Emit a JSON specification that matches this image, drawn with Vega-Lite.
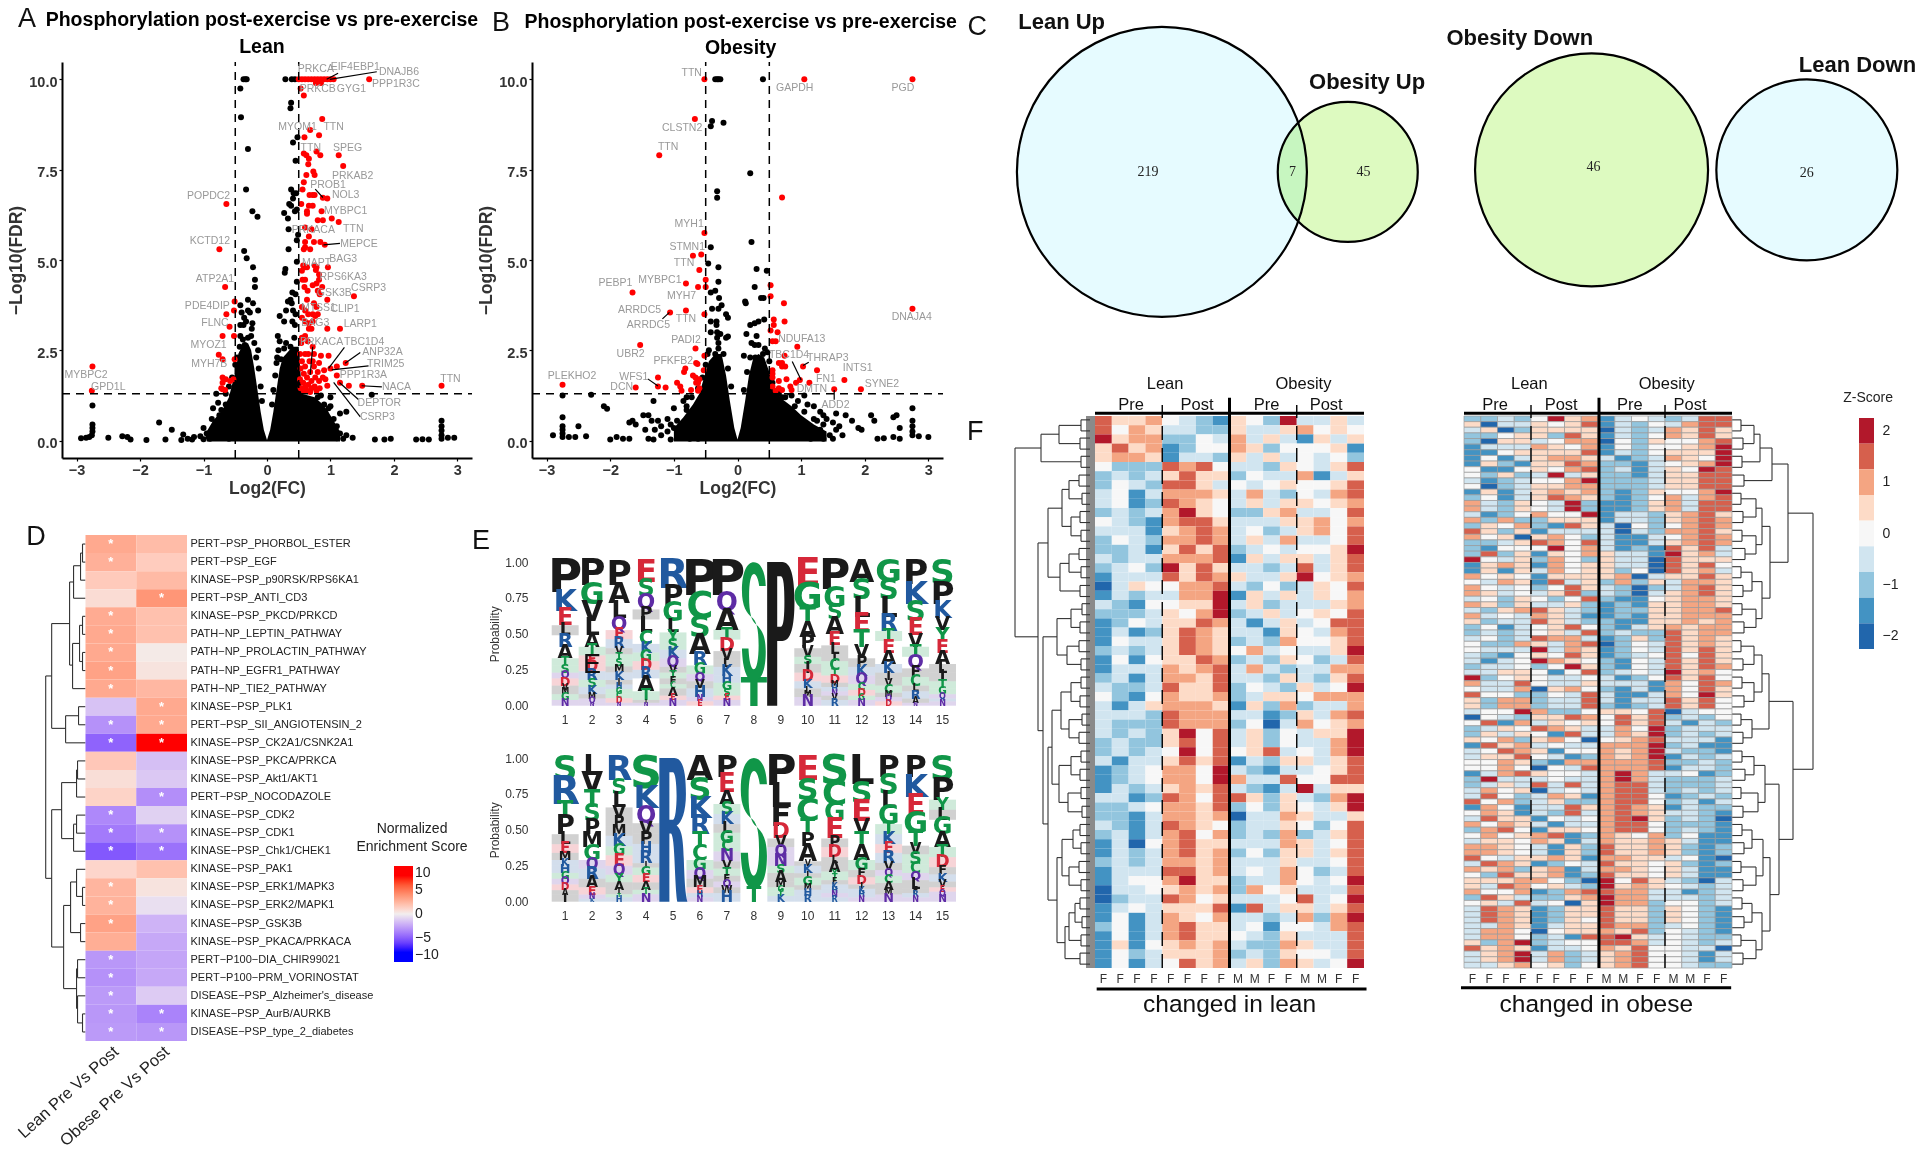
{"$schema":"https://vega.github.io/schema/vega-lite/v6.json","width":1920,"height":1158,"padding":0,"autosize":{"type":"none"},"background":"white","config":{"view":{"stroke":null},"font":"Liberation Sans","axis":{"grid":false}},
"datasets":{
"aarea":[{"x":-0.95,"y":0.25},{"x":-0.85,"y":0.55},{"x":-0.7,"y":0.85},{"x":-0.6,"y":1.2},{"x":-0.5,"y":1.9},{"x":-0.45,"y":2.4},{"x":-0.4,"y":2.6},{"x":-0.3,"y":2.7},{"x":-0.25,"y":2.5},{"x":-0.2,"y":2},{"x":-0.15,"y":1.4},{"x":-0.1,"y":0.8},{"x":-0.05,"y":0.3},{"x":0,"y":0.02},{"x":0.05,"y":0.3},{"x":0.1,"y":0.8},{"x":0.15,"y":1.4},{"x":0.2,"y":2},{"x":0.25,"y":2.3},{"x":0.3,"y":2.4},{"x":0.4,"y":2.6},{"x":0.5,"y":2.6},{"x":0.55,"y":1.3},{"x":0.65,"y":1.25},{"x":0.75,"y":1.2},{"x":0.85,"y":1.05},{"x":0.95,"y":0.85},{"x":1.05,"y":0.55},{"x":1.15,"y":0.25}],
"ablack":[{"x":-0.37,"y":10},{"x":-0.34,"y":10},{"x":-0.32,"y":10},{"x":-0.42,"y":9.75},{"x":0.29,"y":10},{"x":0.39,"y":10},{"x":0.44,"y":10},{"x":0.38,"y":9.35},{"x":0.37,"y":9.2},{"x":-0.41,"y":8.95},{"x":0.48,"y":8.4},{"x":0.41,"y":8.25},{"x":-0.3,"y":8.07},{"x":0.45,"y":7.75},{"x":-0.33,"y":6.95},{"x":0.38,"y":6.95},{"x":0.42,"y":6.85},{"x":0.46,"y":6.85},{"x":0.41,"y":6.7},{"x":0.35,"y":6.55},{"x":0.38,"y":6.5},{"x":0.27,"y":6.3},{"x":0.33,"y":6.15},{"x":0.44,"y":6.35},{"x":0.47,"y":6.4},{"x":-0.23,"y":6.35},{"x":-0.15,"y":6.2},{"x":0.34,"y":5.85},{"x":0.49,"y":5.7},{"x":0.47,"y":5.55},{"x":0.34,"y":5.3},{"x":-0.36,"y":5.25},{"x":-0.32,"y":5.05},{"x":0.47,"y":4.95},{"x":-0.22,"y":4.8},{"x":0.29,"y":4.75},{"x":0.28,"y":4.65},{"x":-0.19,"y":4.45},{"x":-0.19,"y":4.25},{"x":0.47,"y":4.4},{"x":0.4,"y":4.1},{"x":0.45,"y":4.05},{"x":0.37,"y":3.9},{"x":0.33,"y":3.85},{"x":0.39,"y":3.8},{"x":-0.3,"y":3.9},{"x":-0.22,"y":3.8},{"x":-0.42,"y":3.75},{"x":-0.4,"y":3.55},{"x":-0.3,"y":3.6},{"x":-0.27,"y":3.55},{"x":-0.14,"y":3.6},{"x":-0.36,"y":3.4},{"x":-0.33,"y":3.3},{"x":-0.23,"y":3.25},{"x":-0.42,"y":3.2},{"x":-0.37,"y":3.2},{"x":-0.24,"y":3.1},{"x":0.2,"y":3.45},{"x":0.3,"y":3.6},{"x":0.41,"y":3.6},{"x":0.45,"y":3.5},{"x":0.27,"y":3.3},{"x":0.4,"y":3.3},{"x":0.44,"y":3.2},{"x":0.17,"y":2.9},{"x":0.2,"y":2.75},{"x":0.3,"y":2.7},{"x":0.43,"y":2.85},{"x":0.18,"y":2.5},{"x":0.27,"y":2.55},{"x":0.37,"y":2.6},{"x":-0.35,"y":2.65},{"x":-0.3,"y":2.85},{"x":-0.43,"y":2.6},{"x":-0.2,"y":2.7},{"x":-0.32,"y":2.45},{"x":-0.14,"y":2.5},{"x":-0.4,"y":2.4},{"x":0.16,"y":2.3},{"x":0.22,"y":2.25},{"x":1.65,"y":1.27},{"x":-0.8,"y":1.3},{"x":-0.77,"y":1.05},{"x":-0.85,"y":0.9},{"x":-0.87,"y":0.6},{"x":-1.7,"y":0.5},{"x":-2.93,"y":0.07},{"x":-2.85,"y":0.08},{"x":-2.8,"y":0.1},{"x":-2.76,"y":0.15},{"x":-2.75,"y":0.25},{"x":-2.75,"y":0.35},{"x":-2.75,"y":0.45},{"x":-2.75,"y":0.97},{"x":-2.5,"y":0.08},{"x":-2.28,"y":0.12},{"x":-2.2,"y":0.1},{"x":-2.15,"y":0.03},{"x":-1.9,"y":0.02},{"x":-1.6,"y":0.03},{"x":-1.5,"y":0.3},{"x":-1.35,"y":0.02},{"x":-1.32,"y":0.17},{"x":-1.25,"y":0.05},{"x":-1.18,"y":0.03},{"x":-1,"y":0.04},{"x":-0.85,"y":0.3},{"x":-0.8,"y":0.18},{"x":-0.9,"y":0.05},{"x":1.1,"y":0.07},{"x":1.2,"y":0.05},{"x":1.35,"y":0.08},{"x":1.7,"y":0.03},{"x":1.85,"y":0.03},{"x":1.95,"y":0.05},{"x":2.35,"y":0.03},{"x":2.45,"y":0.04},{"x":2.55,"y":0.03},{"x":2.75,"y":0.05},{"x":2.75,"y":0.15},{"x":2.75,"y":0.28},{"x":2.75,"y":0.4},{"x":2.75,"y":0.55},{"x":2.85,"y":0.08},{"x":2.95,"y":0.08},{"x":1.05,"y":0.6},{"x":1,"y":0.95},{"x":1.15,"y":0.75},{"x":1.25,"y":0.8},{"x":1.05,"y":0.3},{"x":0.97,"y":0.9},{"x":0.9,"y":1},{"x":0.8,"y":1.2},{"x":0.9,"y":0.75},{"x":1,"y":1.2},{"x":-0.6,"y":0.05},{"x":-0.75,"y":0.7},{"x":-0.65,"y":1},{"x":-0.55,"y":1.25},{"x":-0.95,"y":0.2},{"x":-1,"y":0.35},{"x":-0.92,"y":0.1},{"x":-0.8,"y":0.5},{"x":-0.72,"y":0.85},{"x":-0.65,"y":1.3},{"x":-0.6,"y":1.5},{"x":-0.55,"y":1.75},{"x":-0.5,"y":2.1},{"x":-0.47,"y":2.3},{"x":-0.42,"y":2.9},{"x":-0.38,"y":2.8},{"x":-0.25,"y":2.9},{"x":-0.17,"y":2.3},{"x":-0.13,"y":2},{"x":-0.1,"y":1.5},{"x":-0.08,"y":1.1},{"x":0.08,"y":1},{"x":0.1,"y":1.4},{"x":0.13,"y":1.8},{"x":0.15,"y":2.15},{"x":1.1,"y":0.4},{"x":1.15,"y":0.2},{"x":-1.05,"y":0.12},{"x":-1.15,"y":0.1},{"x":1.25,"y":0.15},{"x":0.85,"y":1.25}],
"ared":[{"x":0.5,"y":10},{"x":0.55,"y":10},{"x":0.6,"y":10},{"x":0.65,"y":10},{"x":0.7,"y":10},{"x":0.75,"y":10},{"x":0.8,"y":10},{"x":0.85,"y":10},{"x":0.9,"y":10},{"x":0.95,"y":10},{"x":1,"y":10},{"x":1.05,"y":10},{"x":0.77,"y":9.9},{"x":0.85,"y":9.9},{"x":1.61,"y":10},{"x":0.53,"y":9.75},{"x":0.58,"y":9.55},{"x":0.87,"y":8.9},{"x":0.68,"y":8.6},{"x":0.82,"y":8.45},{"x":0.59,"y":8.4},{"x":0.58,"y":7.95},{"x":0.62,"y":7.9},{"x":0.66,"y":7.8},{"x":0.78,"y":8},{"x":0.84,"y":7.9},{"x":1.13,"y":7.9},{"x":1.2,"y":7.6},{"x":0.65,"y":7.65},{"x":0.73,"y":7.45},{"x":0.75,"y":7.35},{"x":0.62,"y":7.35},{"x":0.58,"y":7.15},{"x":0.56,"y":6.95},{"x":0.67,"y":6.8},{"x":0.72,"y":6.8},{"x":0.75,"y":6.8},{"x":0.88,"y":6.72},{"x":0.95,"y":6.7},{"x":0.54,"y":6.55},{"x":0.66,"y":6.5},{"x":0.72,"y":6.5},{"x":0.63,"y":6.35},{"x":0.63,"y":6.28},{"x":0.86,"y":6.35},{"x":0.8,"y":6.1},{"x":0.88,"y":6.1},{"x":1.02,"y":6.15},{"x":1.13,"y":6.05},{"x":0.6,"y":5.9},{"x":0.7,"y":5.85},{"x":0.66,"y":5.65},{"x":0.6,"y":5.5},{"x":0.74,"y":5.5},{"x":0.84,"y":5.5},{"x":0.91,"y":5.42},{"x":0.6,"y":5.35},{"x":0.58,"y":5.3},{"x":0.68,"y":5.3},{"x":-0.64,"y":6.55},{"x":-0.75,"y":5.3},{"x":-0.66,"y":4.25},{"x":-0.51,"y":3.85},{"x":-0.52,"y":3.6},{"x":-0.64,"y":3.5},{"x":-0.59,"y":3.15},{"x":-0.7,"y":2.9},{"x":-0.52,"y":2.9},{"x":-0.76,"y":2.38},{"x":-0.7,"y":2.25},{"x":-0.51,"y":2.25},{"x":-0.7,"y":1.75},{"x":-0.65,"y":1.7},{"x":-0.58,"y":1.65},{"x":-0.53,"y":1.7},{"x":-0.7,"y":1.6},{"x":-0.72,"y":1.45},{"x":-0.66,"y":1.4},{"x":-0.7,"y":1.42},{"x":-2.75,"y":2.05},{"x":-2.76,"y":1.38},{"x":2.75,"y":1.52},{"x":1.5,"y":1.52},{"x":1.29,"y":1.52},{"x":1.15,"y":1.6},{"x":1.1,"y":1.8},{"x":0.95,"y":1.52},{"x":0.57,"y":4.85},{"x":0.6,"y":4.8},{"x":0.55,"y":4.7},{"x":0.63,"y":4.8},{"x":0.75,"y":4.85},{"x":0.78,"y":4.8},{"x":0.77,"y":4.72},{"x":0.96,"y":4.8},{"x":0.82,"y":4.6},{"x":0.82,"y":4.45},{"x":0.6,"y":4.45},{"x":0.56,"y":4.45},{"x":0.78,"y":4.35},{"x":0.72,"y":4.3},{"x":0.87,"y":4.25},{"x":0.59,"y":4.25},{"x":0.64,"y":4.15},{"x":0.8,"y":4.15},{"x":0.83,"y":4.05},{"x":1.37,"y":4},{"x":0.95,"y":3.9},{"x":0.63,"y":3.9},{"x":0.74,"y":3.8},{"x":0.78,"y":3.7},{"x":0.55,"y":3.7},{"x":0.6,"y":3.6},{"x":0.65,"y":3.5},{"x":0.72,"y":3.5},{"x":0.8,"y":3.5},{"x":0.76,"y":3.45},{"x":0.55,"y":3.4},{"x":0.6,"y":3.3},{"x":0.66,"y":3.25},{"x":0.72,"y":3.3},{"x":0.66,"y":3.1},{"x":0.7,"y":3.1},{"x":0.95,"y":3.1},{"x":1.15,"y":3.1},{"x":0.6,"y":2.9},{"x":0.55,"y":2.85},{"x":0.64,"y":2.75},{"x":0.54,"y":2.7},{"x":0.72,"y":2.6},{"x":0.74,"y":2.4},{"x":0.85,"y":2.35},{"x":0.97,"y":2.35},{"x":0.6,"y":2.4},{"x":0.67,"y":2.2},{"x":1,"y":2},{"x":1.1,"y":2.05},{"x":1.24,"y":2.15},{"x":0.9,"y":1.95},{"x":0.8,"y":1.9},{"x":0.6,"y":2.05},{"x":0.52,"y":2.4},{"x":0.55,"y":2.2},{"x":0.53,"y":2},{"x":0.58,"y":1.85},{"x":0.52,"y":1.7},{"x":0.57,"y":1.6},{"x":0.53,"y":1.45},{"x":0.58,"y":1.38},{"x":0.63,"y":1.75},{"x":0.65,"y":1.55},{"x":0.63,"y":1.38},{"x":0.68,"y":1.9},{"x":0.7,"y":1.65},{"x":0.7,"y":1.45},{"x":0.74,"y":2.05},{"x":0.76,"y":1.75},{"x":0.75,"y":1.5},{"x":0.78,"y":1.38},{"x":0.82,"y":1.65},{"x":0.83,"y":1.45},{"x":0.88,"y":1.75},{"x":0.92,"y":1.7},{"x":0.65,"y":2.4},{"x":0.72,"y":2.2},{"x":0.82,"y":2.15},{"x":0.6,"y":1.48},{"x":0.68,"y":1.35}],
"alab":[{"x":0.77,"y":10.28,"t":"PRKCA"},{"x":1.39,"y":10.35,"t":"EIF4EBP1"},{"x":2.08,"y":10.21,"t":"DNAJB6"},{"x":2.03,"y":9.88,"t":"PPP1R3C"},{"x":0.8,"y":9.73,"t":"PRKCB"},{"x":1.33,"y":9.73,"t":"GYG1"},{"x":0.48,"y":8.69,"t":"MYOM1"},{"x":1.05,"y":8.69,"t":"TTN"},{"x":0.69,"y":8.11,"t":"TTN"},{"x":1.27,"y":8.1,"t":"SPEG"},{"x":1.35,"y":7.32,"t":"PRKAB2"},{"x":0.96,"y":7.08,"t":"PROB1"},{"x":1.24,"y":6.79,"t":"NOL3"},{"x":-0.92,"y":6.78,"t":"POPDC2"},{"x":1.24,"y":6.37,"t":"MYBPC1"},{"x":0.73,"y":5.82,"t":"PRKACA"},{"x":1.36,"y":5.87,"t":"TTN"},{"x":-0.9,"y":5.53,"t":"KCTD12"},{"x":1.45,"y":5.45,"t":"MEPCE"},{"x":0.78,"y":4.93,"t":"MAPT"},{"x":1.2,"y":5.04,"t":"BAG3"},{"x":1.2,"y":4.52,"t":"RPS6KA3"},{"x":-0.82,"y":4.48,"t":"ATP2A1"},{"x":1.6,"y":4.22,"t":"CSRP3"},{"x":1.06,"y":4.1,"t":"GSK3B"},{"x":-0.94,"y":3.74,"t":"PDE4DIP"},{"x":0.81,"y":3.66,"t":"MTSS1"},{"x":1.23,"y":3.64,"t":"CLIP1"},{"x":-0.82,"y":3.27,"t":"FLNC"},{"x":0.76,"y":3.27,"t":"BAG3"},{"x":1.47,"y":3.24,"t":"LARP1"},{"x":-0.92,"y":2.66,"t":"MYOZ1"},{"x":0.86,"y":2.72,"t":"PRKACA"},{"x":1.53,"y":2.72,"t":"TBC1D4"},{"x":1.82,"y":2.45,"t":"ANP32A"},{"x":-0.91,"y":2.13,"t":"MYH7B"},{"x":1.87,"y":2.11,"t":"TRIM25"},{"x":1.52,"y":1.82,"t":"PPP1R3A"},{"x":-2.85,"y":1.81,"t":"MYBPC2"},{"x":-2.5,"y":1.48,"t":"GPD1L"},{"x":2.04,"y":1.49,"t":"NACA"},{"x":2.89,"y":1.7,"t":"TTN"},{"x":1.77,"y":1.05,"t":"DEPTOR"},{"x":1.74,"y":0.65,"t":"CSRP3"}],
"acon":[{"x":1.12,"y":10.17,"x2":0.94,"y2":10},{"x":1.73,"y":10.21,"x2":0.99,"y2":10},{"x":0.76,"y":6.96,"x2":0.88,"y2":6.73},{"x":1.15,"y":5.46,"x2":0.89,"y2":5.42},{"x":0.72,"y":2.6,"x2":0.68,"y2":1.82},{"x":1.22,"y":2.58,"x2":0.97,"y2":2},{"x":1.47,"y":2.44,"x2":1.23,"y2":2.14},{"x":1.6,"y":2.07,"x2":1.02,"y2":1.96},{"x":1.81,"y":1.49,"x2":1.49,"y2":1.52},{"x":1.44,"y":1.14,"x2":1.14,"y2":1.61},{"x":1.47,"y":0.66,"x2":1.05,"y2":1.61}],
"dash":[{"x":-0.5,"y":-0.48,"x2":-0.5,"y2":10.48},{"x":0.5,"y":-0.48,"x2":0.5,"y2":10.48},{"x":-3.23,"y":1.3,"x2":3.23,"y2":1.3}],
"barea":[{"x":-1,"y":0.35},{"x":-0.85,"y":0.65},{"x":-0.7,"y":1},{"x":-0.6,"y":1.3},{"x":-0.5,"y":1.9},{"x":-0.45,"y":2.2},{"x":-0.35,"y":2.4},{"x":-0.25,"y":2.4},{"x":-0.18,"y":1.8},{"x":-0.12,"y":1.1},{"x":-0.05,"y":0.35},{"x":0,"y":0.03},{"x":0.05,"y":0.35},{"x":0.12,"y":1.1},{"x":0.18,"y":1.8},{"x":0.25,"y":2.3},{"x":0.33,"y":2.4},{"x":0.42,"y":2.3},{"x":0.5,"y":1.9},{"x":0.6,"y":1.35},{"x":0.7,"y":1.15},{"x":0.85,"y":0.95},{"x":1,"y":0.7},{"x":1.2,"y":0.45},{"x":1.4,"y":0.25}],
"bblack":[{"x":-0.35,"y":10},{"x":-0.32,"y":10},{"x":-0.3,"y":10},{"x":-0.27,"y":10},{"x":0.4,"y":10},{"x":-0.4,"y":8.85},{"x":-0.42,"y":8.7},{"x":-0.22,"y":8.8},{"x":0.2,"y":7.4},{"x":-0.32,"y":6.9},{"x":-0.32,"y":6.72},{"x":0.22,"y":5.5},{"x":-0.42,"y":5.35},{"x":-0.46,"y":4.9},{"x":-0.3,"y":4.8},{"x":0.3,"y":4.75},{"x":0.46,"y":4.7},{"x":-0.3,"y":4.4},{"x":0.27,"y":4.25},{"x":-0.42,"y":4.1},{"x":-0.35,"y":4.15},{"x":-0.29,"y":3.95},{"x":0.37,"y":3.95},{"x":0.41,"y":3.95},{"x":0.12,"y":3.85},{"x":0.13,"y":3.8},{"x":-0.4,"y":3.65},{"x":-0.25,"y":3.75},{"x":-0.3,"y":3.65},{"x":-0.18,"y":3.5},{"x":-0.15,"y":3.4},{"x":0.42,"y":3.35},{"x":0.33,"y":3.3},{"x":0.2,"y":3.2},{"x":0.27,"y":3.25},{"x":-0.42,"y":3.3},{"x":-0.33,"y":3.3},{"x":-0.33,"y":3.2},{"x":-0.42,"y":3},{"x":-0.32,"y":3},{"x":-0.27,"y":2.95},{"x":0.14,"y":2.95},{"x":0.3,"y":2.9},{"x":-0.18,"y":2.85},{"x":-0.15,"y":2.88},{"x":-0.32,"y":2.85},{"x":0.22,"y":2.7},{"x":0.27,"y":2.65},{"x":0.33,"y":2.65},{"x":0.43,"y":2.55},{"x":-0.3,"y":2.7},{"x":-0.3,"y":2.55},{"x":-0.35,"y":2.4},{"x":-0.47,"y":2.4},{"x":0.1,"y":2.35},{"x":0.28,"y":2.3},{"x":0.4,"y":2.4},{"x":0.47,"y":2.45},{"x":-2.75,"y":1.25},{"x":-2.3,"y":1.27},{"x":-2.1,"y":0.95},{"x":-2.05,"y":0.88},{"x":-1.32,"y":1.1},{"x":-2.75,"y":0.65},{"x":-2.75,"y":0.4},{"x":-2.75,"y":0.3},{"x":-2.75,"y":0.2},{"x":-2.75,"y":0.1},{"x":-2.5,"y":0.4},{"x":-2.9,"y":0.15},{"x":-2.65,"y":0.1},{"x":-2.55,"y":0.1},{"x":-2.38,"y":0.12},{"x":-2,"y":0.03},{"x":-1.9,"y":0.1},{"x":-1.8,"y":0.05},{"x":-1.7,"y":0.05},{"x":-1.7,"y":0.5},{"x":-1.65,"y":0.55},{"x":-1.6,"y":0.45},{"x":-1.48,"y":0.7},{"x":-1.4,"y":0.7},{"x":-1.35,"y":0.55},{"x":-1.45,"y":0.3},{"x":-1.3,"y":0.3},{"x":-1.2,"y":0.4},{"x":-1.1,"y":0.6},{"x":-1,"y":0.9},{"x":-0.85,"y":1.1},{"x":-0.8,"y":0.95},{"x":-1.32,"y":0.03},{"x":-1.05,"y":0.03},{"x":-0.9,"y":0.3},{"x":-1,"y":0.35},{"x":-1.25,"y":0.55},{"x":-1.1,"y":0.25},{"x":-0.75,"y":0.05},{"x":-0.62,"y":0.05},{"x":1.2,"y":0.95},{"x":1.3,"y":0.8},{"x":1.1,"y":1},{"x":1.05,"y":1.25},{"x":0.95,"y":1.1},{"x":1.35,"y":0.7},{"x":1.4,"y":0.6},{"x":1.25,"y":0.55},{"x":1.5,"y":0.5},{"x":1.7,"y":0.7},{"x":1.8,"y":0.55},{"x":1.9,"y":0.35},{"x":1.55,"y":0.75},{"x":1.95,"y":0.3},{"x":2.1,"y":0.7},{"x":2.15,"y":0.55},{"x":2.45,"y":0.65},{"x":2.5,"y":0.7},{"x":2.55,"y":0.35},{"x":2.75,"y":0.9},{"x":2.75,"y":0.55},{"x":2.75,"y":0.4},{"x":2.75,"y":0.25},{"x":2.75,"y":0.15},{"x":2.85,"y":0.12},{"x":3,"y":0.1},{"x":2.45,"y":0.1},{"x":2.3,"y":0.07},{"x":2.2,"y":0.05},{"x":2.55,"y":0.05},{"x":1.15,"y":0.05},{"x":1.35,"y":0.05},{"x":1.5,"y":0.05},{"x":0.85,"y":1.25},{"x":0.7,"y":1.2},{"x":1.6,"y":0.4},{"x":1.45,"y":0.15},{"x":1.3,"y":0.3},{"x":-0.95,"y":0.55},{"x":-1.05,"y":0.45},{"x":-0.8,"y":0.85},{"x":-0.72,"y":1.2},{"x":-0.62,"y":1.45},{"x":-0.55,"y":1.75},{"x":-0.5,"y":2.1},{"x":-0.45,"y":2.5},{"x":-0.22,"y":2.4},{"x":-0.15,"y":2},{"x":-0.1,"y":1.5},{"x":0.1,"y":1.4},{"x":0.15,"y":1.9},{"x":0.2,"y":2.3},{"x":0.5,"y":2.2},{"x":0.55,"y":1.6},{"x":0.65,"y":1.3},{"x":0.75,"y":1.2},{"x":0.9,"y":0.95},{"x":1.05,"y":0.8},{"x":1.2,"y":0.6},{"x":1.35,"y":0.45},{"x":1.55,"y":0.3},{"x":1.65,"y":0.15},{"x":-1.2,"y":0.15},{"x":-1.4,"y":0.05},{"x":-0.8,"y":1.2}],
"bred":[{"x":-0.52,"y":10},{"x":1.05,"y":10},{"x":2.75,"y":10},{"x":-0.67,"y":8.9},{"x":-1.23,"y":7.9},{"x":0.7,"y":6.73},{"x":-0.52,"y":5.75},{"x":-0.7,"y":5.12},{"x":-0.57,"y":5.15},{"x":-0.6,"y":4.72},{"x":-0.5,"y":4.45},{"x":-0.81,"y":4.35},{"x":-0.62,"y":4.25},{"x":-0.5,"y":4.25},{"x":-1.65,"y":4.1},{"x":-0.81,"y":3.6},{"x":-1.06,"y":3.55},{"x":-0.52,"y":3.5},{"x":0.52,"y":4.3},{"x":0.52,"y":4},{"x":0.73,"y":3.8},{"x":2.75,"y":3.65},{"x":0.57,"y":3.35},{"x":0.57,"y":3.2},{"x":0.74,"y":3.3},{"x":0.52,"y":3.05},{"x":0.63,"y":3},{"x":0.55,"y":2.75},{"x":0.6,"y":2.75},{"x":-1.53,"y":2.65},{"x":0.94,"y":2.6},{"x":-0.66,"y":2.55},{"x":0.74,"y":2.35},{"x":-0.52,"y":2.35},{"x":-0.65,"y":2.15},{"x":-0.63,"y":2.12},{"x":0.65,"y":2.15},{"x":0.7,"y":2.15},{"x":0.7,"y":2.05},{"x":0.75,"y":2.05},{"x":1.03,"y":2.05},{"x":-0.82,"y":2},{"x":-0.84,"y":1.9},{"x":-0.53,"y":1.95},{"x":0.55,"y":1.95},{"x":1.25,"y":1.95},{"x":0.55,"y":1.85},{"x":-0.7,"y":1.8},{"x":-0.66,"y":1.75},{"x":-0.6,"y":1.7},{"x":-1.25,"y":1.75},{"x":0.55,"y":1.75},{"x":0.65,"y":1.65},{"x":0.77,"y":1.7},{"x":0.98,"y":1.68},{"x":1.68,"y":1.68},{"x":-0.65,"y":1.6},{"x":0.92,"y":1.6},{"x":1.13,"y":1.6},{"x":-0.95,"y":1.6},{"x":-0.62,"y":1.6},{"x":-0.9,"y":1.5},{"x":-1.25,"y":1.5},{"x":-1.13,"y":1.47},{"x":-1.6,"y":1.47},{"x":-0.88,"y":1.38},{"x":-0.73,"y":1.4},{"x":-0.6,"y":1.45},{"x":-0.62,"y":1.38},{"x":0.55,"y":1.5},{"x":0.65,"y":1.45},{"x":0.7,"y":1.4},{"x":0.6,"y":1.38},{"x":0.83,"y":1.5},{"x":0.85,"y":1.4},{"x":1.52,"y":1.42},{"x":1.94,"y":1.42},{"x":-2.75,"y":1.55}],
"blab":[{"x":-0.72,"y":10.18,"t":"TTN"},{"x":0.9,"y":9.75,"t":"GAPDH"},{"x":2.6,"y":9.75,"t":"PGD"},{"x":-0.87,"y":8.65,"t":"CLSTN2"},{"x":-1.09,"y":8.13,"t":"TTN"},{"x":-0.76,"y":5.99,"t":"MYH1"},{"x":-0.79,"y":5.37,"t":"STMN1"},{"x":-0.84,"y":4.91,"t":"TTN"},{"x":-1.22,"y":4.44,"t":"MYBPC1"},{"x":-1.92,"y":4.35,"t":"PEBP1"},{"x":-0.88,"y":4.01,"t":"MYH7"},{"x":-1.54,"y":3.63,"t":"ARRDC5"},{"x":-0.81,"y":3.37,"t":"TTN"},{"x":2.74,"y":3.41,"t":"DNAJA4"},{"x":-1.4,"y":3.21,"t":"ARRDC5"},{"x":1.01,"y":2.82,"t":"NDUFA13"},{"x":-0.81,"y":2.79,"t":"PADI2"},{"x":-1.68,"y":2.39,"t":"UBR2"},{"x":0.81,"y":2.37,"t":"TBC1D4"},{"x":1.42,"y":2.29,"t":"THRAP3"},{"x":-1.01,"y":2.21,"t":"PFKFB2"},{"x":1.89,"y":2,"t":"INTS1"},{"x":-2.6,"y":1.78,"t":"PLEKHO2"},{"x":-1.63,"y":1.76,"t":"WFS1"},{"x":1.39,"y":1.72,"t":"FN1"},{"x":2.27,"y":1.58,"t":"SYNE2"},{"x":-1.82,"y":1.49,"t":"DCN"},{"x":1.17,"y":1.43,"t":"DMTN"},{"x":1.54,"y":0.98,"t":"ADD2"}],
"bcon":[{"x":-1.18,"y":3.37,"x2":-1.07,"y2":3.55},{"x":-1.41,"y":1.71,"x2":-1.25,"y2":1.51},{"x":0.86,"y":2.19,"x2":1,"y2":1.68},{"x":1.12,"y":2.17,"x2":1.03,"y2":2.08},{"x":1.52,"y":1.13,"x2":1.52,"y2":1.4},{"x":0.82,"y":1.31,"x2":0.74,"y2":1.2}],
"nes":[{"n":"PERT−PSP_PHORBOL_ESTER","L":3,"O":2.2,"a":1},{"n":"PERT−PSP_EGF","L":2.7,"O":1.5,"a":1},{"n":"KINASE−PSP_p90RSK/RPS6KA1","L":1.6,"O":2.3},{"n":"PERT−PSP_ANTI_CD3","L":0.8,"O":3.8,"b":1},{"n":"KINASE−PSP_PKCD/PRKCD","L":2.9,"O":2,"a":1},{"n":"PATH−NP_LEPTIN_PATHWAY","L":3,"O":2,"a":1},{"n":"PATH−NP_PROLACTIN_PATHWAY","L":3,"O":0.2,"a":1},{"n":"PATH−NP_EGFR1_PATHWAY","L":3.3,"O":0.5,"a":1},{"n":"PATH−NP_TIE2_PATHWAY","L":3,"O":2.4,"a":1},{"n":"KINASE−PSP_PLK1","L":-1.5,"O":3,"b":1},{"n":"PERT−PSP_SII_ANGIOTENSIN_2","L":-3.2,"O":3,"a":1,"b":1},{"n":"KINASE−PSP_CK2A1/CSNK2A1","L":-4.8,"O":9,"a":1,"b":1},{"n":"KINASE−PSP_PKCA/PRKCA","L":1.7,"O":-1.6},{"n":"KINASE−PSP_Akt1/AKT1","L":0.7,"O":-1.3},{"n":"PERT−PSP_NOCODAZOLE","L":1.2,"O":-3.3,"b":1},{"n":"KINASE−PSP_CDK2","L":-3.5,"O":-1,"a":1},{"n":"KINASE−PSP_CDK1","L":-4,"O":-3.2,"a":1,"b":1},{"n":"KINASE−PSP_Chk1/CHEK1","L":-5.2,"O":-4.3,"a":1,"b":1},{"n":"KINASE−PSP_PAK1","L":1.1,"O":2},{"n":"KINASE−PSP_ERK1/MAPK3","L":2.5,"O":0.5,"a":1},{"n":"KINASE−PSP_ERK2/MAPK1","L":2.6,"O":-0.5,"a":1},{"n":"KINASE−PSP_GSK3B","L":3.3,"O":-2,"a":1},{"n":"KINASE−PSP_PKACA/PRKACA","L":2.8,"O":-2.4},{"n":"PERT−P100−DIA_CHIR99021","L":-3,"O":-2.5,"a":1},{"n":"PERT−P100−PRM_VORINOSTAT","L":-3.2,"O":-2.4,"a":1},{"n":"DISEASE−PSP_Alzheimer's_disease","L":-2.9,"O":-1.2,"a":1},{"n":"KINASE−PSP_AurB/AURKB","L":-3,"O":-3.7,"a":1,"b":1},{"n":"DISEASE−PSP_type_2_diabetes","L":-2.9,"O":-3,"a":1,"b":1}],
"dtree":[{"h":3,"a":1,"p":0,"b":2,"q":0},{"h":5,"a":1.5,"p":3,"b":3,"q":0},{"h":12,"a":2.2,"p":5,"b":4,"q":0},{"h":3,"a":5,"p":0,"b":6,"q":0},{"h":3,"a":7,"p":0,"b":8,"q":0},{"h":6,"a":5.5,"p":3,"b":7.5,"q":3},{"h":13,"a":6.5,"p":6,"b":9,"q":0},{"h":16,"a":3.1,"p":12,"b":7.7,"q":13},{"h":7,"a":10,"p":0,"b":11,"q":0},{"h":20,"a":10.5,"p":7,"b":12,"q":0},{"h":34,"a":5.4,"p":16,"b":11.2,"q":20},{"h":8,"a":13,"p":0,"b":14,"q":0},{"h":9,"a":13.5,"p":8,"b":15,"q":0},{"h":9,"a":16,"p":0,"b":17,"q":0},{"h":12,"a":16.5,"p":9,"b":18,"q":0},{"h":24,"a":14.2,"p":9,"b":17.3,"q":12},{"h":3,"a":20,"p":0,"b":21,"q":0},{"h":9,"a":19,"p":0,"b":20.5,"q":3},{"h":5,"a":22,"p":0,"b":23,"q":0},{"h":15,"a":19.7,"p":9,"b":22.5,"q":5},{"h":8,"a":24,"p":0,"b":25,"q":0},{"h":3,"a":27,"p":0,"b":28,"q":0},{"h":8,"a":26,"p":0,"b":27.5,"q":3},{"h":9,"a":24.5,"p":8,"b":26.7,"q":8},{"h":22,"a":21,"p":15,"b":25.6,"q":9},{"h":34,"a":15.7,"p":24,"b":23.3,"q":22},{"h":40,"a":8.3,"p":34,"b":19.5,"q":34}],
"ltree":[{"h":14,"a":0.7,"p":5,"b":2.7,"q":5},{"h":15,"a":4,"p":5,"b":6,"q":5},{"h":14,"a":7.3,"p":5,"b":9.3,"q":5},{"h":16,"a":10.7,"p":5,"b":12.7,"q":5},{"h":13,"a":14,"p":5,"b":16,"q":5},{"h":15,"a":17.3,"p":5,"b":19.3,"q":5},{"h":14,"a":20.7,"p":5,"b":22.7,"q":5},{"h":16,"a":24,"p":5,"b":26,"q":5},{"h":14,"a":27.3,"p":5,"b":29.3,"q":5},{"h":15,"a":30.7,"p":5,"b":32.7,"q":5},{"h":13,"a":34,"p":5,"b":36,"q":5},{"h":15,"a":37.3,"p":5,"b":39.3,"q":5},{"h":16,"a":40.7,"p":5,"b":42.7,"q":5},{"h":14,"a":44,"p":5,"b":46,"q":5},{"h":14,"a":47.3,"p":5,"b":49.3,"q":5},{"h":15,"a":50.7,"p":5,"b":52.7,"q":5},{"h":13,"a":54,"p":5,"b":56,"q":5},{"h":16,"a":57.3,"p":5,"b":59.3,"q":5},{"h":14,"a":60.7,"p":5,"b":62.7,"q":5},{"h":15,"a":64,"p":5,"b":66,"q":5},{"h":14,"a":67.3,"p":5,"b":69.3,"q":5},{"h":13,"a":70.7,"p":5,"b":72.7,"q":5},{"h":15,"a":74,"p":5,"b":76,"q":5},{"h":14,"a":77.3,"p":5,"b":79.3,"q":5},{"h":16,"a":80.7,"p":5,"b":82.7,"q":5},{"h":14,"a":84,"p":5,"b":86,"q":5},{"h":15,"a":87.3,"p":5,"b":89.3,"q":5},{"h":13,"a":90.7,"p":5,"b":92.7,"q":5},{"h":14,"a":94,"p":5,"b":96,"q":5},{"h":15,"a":97.3,"p":5,"b":99.3,"q":5},{"h":36,"a":1.7,"p":14,"b":5,"q":15},{"h":54,"a":3.3,"p":36,"b":8.3,"q":14},{"h":26,"a":11.7,"p":16,"b":15,"q":13},{"h":24,"a":18.3,"p":15,"b":21.7,"q":14},{"h":26,"a":25,"p":16,"b":28.3,"q":14},{"h":33,"a":13.3,"p":26,"b":20,"q":24},{"h":35,"a":26.7,"p":26,"b":31.7,"q":15},{"h":47,"a":16.7,"p":33,"b":29.2,"q":35},{"h":24,"a":35,"p":13,"b":38.3,"q":15},{"h":28,"a":41.7,"p":16,"b":45,"q":14},{"h":38,"a":36.7,"p":24,"b":43.3,"q":28},{"h":24,"a":48.3,"p":14,"b":51.7,"q":15},{"h":26,"a":55,"p":13,"b":58.3,"q":16},{"h":34,"a":50,"p":24,"b":56.7,"q":26},{"h":24,"a":61.7,"p":14,"b":65,"q":15},{"h":27,"a":68.3,"p":14,"b":71.7,"q":13},{"h":36,"a":63.3,"p":24,"b":70,"q":27},{"h":22,"a":75,"p":15,"b":78.3,"q":14},{"h":26,"a":81.7,"p":16,"b":85,"q":14},{"h":33,"a":76.7,"p":22,"b":83.3,"q":26},{"h":20,"a":88.3,"p":15,"b":91.7,"q":13},{"h":26,"a":90,"p":20,"b":95,"q":14},{"h":30,"a":92.5,"p":26,"b":98.3,"q":15},{"h":38,"a":80,"p":33,"b":95.4,"q":30},{"h":43,"a":53.3,"p":34,"b":66.7,"q":36},{"h":47,"a":60,"p":43,"b":87.7,"q":38},{"h":52,"a":40,"p":38,"b":73.9,"q":47},{"h":57,"a":23,"p":47,"b":57,"q":52},{"h":80,"a":5.8,"p":54,"b":40,"q":57}],
"rtree":[{"h":9,"a":0.7,"p":0,"b":2.7,"q":0},{"h":11,"a":4,"p":0,"b":6,"q":0},{"h":10,"a":7.3,"p":0,"b":9.3,"q":0},{"h":12,"a":10.7,"p":0,"b":12.7,"q":0},{"h":9,"a":14,"p":0,"b":16,"q":0},{"h":11,"a":17.3,"p":0,"b":19.3,"q":0},{"h":10,"a":20.7,"p":0,"b":22.7,"q":0},{"h":13,"a":24,"p":0,"b":26,"q":0},{"h":9,"a":27.3,"p":0,"b":29.3,"q":0},{"h":11,"a":30.7,"p":0,"b":32.7,"q":0},{"h":10,"a":34,"p":0,"b":36,"q":0},{"h":12,"a":37.3,"p":0,"b":39.3,"q":0},{"h":9,"a":40.7,"p":0,"b":42.7,"q":0},{"h":11,"a":44,"p":0,"b":46,"q":0},{"h":10,"a":47.3,"p":0,"b":49.3,"q":0},{"h":12,"a":50.7,"p":0,"b":52.7,"q":0},{"h":9,"a":54,"p":0,"b":56,"q":0},{"h":11,"a":57.3,"p":0,"b":59.3,"q":0},{"h":10,"a":60.7,"p":0,"b":62.7,"q":0},{"h":13,"a":64,"p":0,"b":66,"q":0},{"h":9,"a":67.3,"p":0,"b":69.3,"q":0},{"h":11,"a":70.7,"p":0,"b":72.7,"q":0},{"h":10,"a":74,"p":0,"b":76,"q":0},{"h":12,"a":77.3,"p":0,"b":79.3,"q":0},{"h":9,"a":80.7,"p":0,"b":82.7,"q":0},{"h":11,"a":84,"p":0,"b":86,"q":0},{"h":10,"a":87.3,"p":0,"b":89.3,"q":0},{"h":12,"a":90.7,"p":0,"b":92.7,"q":0},{"h":9,"a":94,"p":0,"b":96,"q":0},{"h":11,"a":97.3,"p":0,"b":99.3,"q":0},{"h":22,"a":1.7,"p":9,"b":5,"q":11},{"h":28,"a":3.3,"p":22,"b":8.3,"q":10},{"h":40,"a":5.8,"p":28,"b":11.7,"q":12},{"h":24,"a":15,"p":9,"b":18.3,"q":11},{"h":24,"a":21.7,"p":10,"b":25,"q":13},{"h":30,"a":16.7,"p":24,"b":23.3,"q":24},{"h":20,"a":28.3,"p":9,"b":31.7,"q":11},{"h":24,"a":35,"p":10,"b":38.3,"q":12},{"h":30,"a":30,"p":20,"b":36.7,"q":24},{"h":38,"a":20,"p":30,"b":33,"q":30},{"h":56,"a":8.7,"p":40,"b":26.5,"q":38},{"h":22,"a":41.7,"p":9,"b":45,"q":11},{"h":22,"a":48.3,"p":10,"b":51.7,"q":12},{"h":30,"a":43.3,"p":22,"b":50,"q":22},{"h":20,"a":55,"p":9,"b":58.3,"q":11},{"h":37,"a":46.7,"p":30,"b":56.7,"q":20},{"h":22,"a":61.7,"p":10,"b":65,"q":13},{"h":26,"a":68.3,"p":9,"b":71.7,"q":11},{"h":33,"a":63.3,"p":22,"b":70,"q":26},{"h":20,"a":75,"p":10,"b":78.3,"q":12},{"h":24,"a":81.7,"p":9,"b":85,"q":11},{"h":31,"a":76.7,"p":20,"b":83.3,"q":24},{"h":20,"a":88.3,"p":10,"b":91.7,"q":12},{"h":24,"a":95,"p":9,"b":98.3,"q":11},{"h":30,"a":90,"p":20,"b":96.7,"q":24},{"h":38,"a":80,"p":31,"b":93.3,"q":30},{"h":47,"a":66.7,"p":33,"b":86.7,"q":38},{"h":61,"a":51.7,"p":37,"b":76.7,"q":47},{"h":81,"a":17.6,"p":56,"b":64,"q":61}],
"logo1":[{"q":1,"l":"P","p":0.21},{"q":1,"l":"K","p":0.13},{"q":1,"l":"E","p":0.1},{"q":1,"l":"L","p":0.07},{"q":1,"l":"R","p":0.08},{"q":1,"l":"A","p":0.08},{"q":1,"l":"T","p":0.05},{"q":1,"l":"S","p":0.05},{"q":1,"l":"Q","p":0.04},{"q":1,"l":"D","p":0.05},{"q":1,"l":"V","p":0.03},{"q":1,"l":"M","p":0.03},{"q":1,"l":"G","p":0.04},{"q":1,"l":"N","p":0.04},{"q":2,"l":"P","p":0.16},{"q":2,"l":"G","p":0.13},{"q":2,"l":"V","p":0.12},{"q":2,"l":"L","p":0.1},{"q":2,"l":"A","p":0.08},{"q":2,"l":"T","p":0.06},{"q":2,"l":"E","p":0.05},{"q":2,"l":"D","p":0.06},{"q":2,"l":"R","p":0.06},{"q":2,"l":"S","p":0.05},{"q":2,"l":"K","p":0.05},{"q":2,"l":"M","p":0.03},{"q":2,"l":"Q","p":0.03},{"q":2,"l":"N","p":0.02},{"q":3,"l":"P","p":0.15},{"q":3,"l":"A","p":0.12},{"q":3,"l":"L","p":0.1},{"q":3,"l":"Q","p":0.08},{"q":3,"l":"E","p":0.06},{"q":3,"l":"R","p":0.06},{"q":3,"l":"V","p":0.04},{"q":3,"l":"T","p":0.04},{"q":3,"l":"S","p":0.04},{"q":3,"l":"M","p":0.04},{"q":3,"l":"K","p":0.05},{"q":3,"l":"I","p":0.03},{"q":3,"l":"H","p":0.03},{"q":3,"l":"G","p":0.03},{"q":3,"l":"C","p":0.03},{"q":3,"l":"D","p":0.03},{"q":3,"l":"N","p":0.02},{"q":4,"l":"E","p":0.14},{"q":4,"l":"S","p":0.1},{"q":4,"l":"Q","p":0.09},{"q":4,"l":"P","p":0.07},{"q":4,"l":"L","p":0.09},{"q":4,"l":"C","p":0.08},{"q":4,"l":"K","p":0.06},{"q":4,"l":"G","p":0.06},{"q":4,"l":"D","p":0.06},{"q":4,"l":"R","p":0.06},{"q":4,"l":"A","p":0.09},{"q":4,"l":"T","p":0.06},{"q":4,"l":"I","p":0.02},{"q":4,"l":"N","p":0.02},{"q":5,"l":"R","p":0.18},{"q":5,"l":"P","p":0.12},{"q":5,"l":"G","p":0.11},{"q":5,"l":"L","p":0.08},{"q":5,"l":"Y","p":0.06},{"q":5,"l":"S","p":0.06},{"q":5,"l":"K","p":0.06},{"q":5,"l":"Q","p":0.06},{"q":5,"l":"V","p":0.04},{"q":5,"l":"T","p":0.04},{"q":5,"l":"F","p":0.04},{"q":5,"l":"C","p":0.03},{"q":5,"l":"A","p":0.05},{"q":5,"l":"E","p":0.03},{"q":5,"l":"N","p":0.04},{"q":6,"l":"P","p":0.23},{"q":6,"l":"C","p":0.16},{"q":6,"l":"S","p":0.13},{"q":6,"l":"A","p":0.12},{"q":6,"l":"R","p":0.08},{"q":6,"l":"G","p":0.06},{"q":6,"l":"Q","p":0.05},{"q":6,"l":"V","p":0.05},{"q":6,"l":"H","p":0.06},{"q":6,"l":"N","p":0.03},{"q":6,"l":"E","p":0.03},{"q":7,"l":"P","p":0.23},{"q":7,"l":"Q","p":0.11},{"q":7,"l":"A","p":0.13},{"q":7,"l":"T","p":0.07},{"q":7,"l":"D","p":0.08},{"q":7,"l":"V","p":0.06},{"q":7,"l":"L","p":0.05},{"q":7,"l":"K","p":0.06},{"q":7,"l":"H","p":0.05},{"q":7,"l":"G","p":0.05},{"q":7,"l":"S","p":0.04},{"q":7,"l":"E","p":0.03},{"q":7,"l":"N","p":0.04},{"q":8,"l":"S","p":0.83},{"q":8,"l":"T","p":0.17},{"q":9,"l":"P","p":1},{"q":10,"l":"E","p":0.17},{"q":10,"l":"G","p":0.16},{"q":10,"l":"T","p":0.1},{"q":10,"l":"A","p":0.09},{"q":10,"l":"P","p":0.08},{"q":10,"l":"V","p":0.06},{"q":10,"l":"S","p":0.05},{"q":10,"l":"I","p":0.06},{"q":10,"l":"D","p":0.06},{"q":10,"l":"K","p":0.05},{"q":10,"l":"L","p":0.03},{"q":10,"l":"M","p":0.03},{"q":10,"l":"N","p":0.06},{"q":11,"l":"P","p":0.19},{"q":11,"l":"G","p":0.12},{"q":11,"l":"S","p":0.09},{"q":11,"l":"A","p":0.1},{"q":11,"l":"E","p":0.08},{"q":11,"l":"L","p":0.06},{"q":11,"l":"I","p":0.05},{"q":11,"l":"C","p":0.06},{"q":11,"l":"T","p":0.04},{"q":11,"l":"D","p":0.05},{"q":11,"l":"M","p":0.03},{"q":11,"l":"H","p":0.03},{"q":11,"l":"N","p":0.03},{"q":11,"l":"V","p":0.03},{"q":11,"l":"R","p":0.04},{"q":12,"l":"A","p":0.14},{"q":12,"l":"S","p":0.12},{"q":12,"l":"L","p":0.12},{"q":12,"l":"E","p":0.11},{"q":12,"l":"T","p":0.1},{"q":12,"l":"V","p":0.08},{"q":12,"l":"P","p":0.06},{"q":12,"l":"K","p":0.06},{"q":12,"l":"Q","p":0.06},{"q":12,"l":"C","p":0.04},{"q":12,"l":"D","p":0.04},{"q":12,"l":"G","p":0.03},{"q":12,"l":"N","p":0.04},{"q":13,"l":"G","p":0.14},{"q":13,"l":"S","p":0.12},{"q":13,"l":"L","p":0.12},{"q":13,"l":"R","p":0.1},{"q":13,"l":"T","p":0.07},{"q":13,"l":"E","p":0.08},{"q":13,"l":"A","p":0.08},{"q":13,"l":"K","p":0.06},{"q":13,"l":"I","p":0.05},{"q":13,"l":"V","p":0.04},{"q":13,"l":"C","p":0.05},{"q":13,"l":"M","p":0.03},{"q":13,"l":"Q","p":0.03},{"q":13,"l":"D","p":0.03},{"q":14,"l":"P","p":0.15},{"q":14,"l":"K","p":0.14},{"q":14,"l":"S","p":0.12},{"q":14,"l":"E","p":0.1},{"q":14,"l":"V","p":0.08},{"q":14,"l":"T","p":0.07},{"q":14,"l":"Q","p":0.08},{"q":14,"l":"F","p":0.06},{"q":14,"l":"C","p":0.06},{"q":14,"l":"L","p":0.04},{"q":14,"l":"R","p":0.05},{"q":14,"l":"A","p":0.03},{"q":14,"l":"N","p":0.02},{"q":15,"l":"S","p":0.15},{"q":15,"l":"P","p":0.14},{"q":15,"l":"K","p":0.1},{"q":15,"l":"V","p":0.08},{"q":15,"l":"Y","p":0.08},{"q":15,"l":"E","p":0.08},{"q":15,"l":"A","p":0.08},{"q":15,"l":"L","p":0.06},{"q":15,"l":"I","p":0.06},{"q":15,"l":"T","p":0.05},{"q":15,"l":"G","p":0.04},{"q":15,"l":"Q","p":0.03},{"q":15,"l":"H","p":0.02},{"q":15,"l":"N","p":0.03}],
"logo2":[{"q":1,"l":"S","p":0.15},{"q":1,"l":"R","p":0.17},{"q":1,"l":"T","p":0.1},{"q":1,"l":"P","p":0.11},{"q":1,"l":"L","p":0.07},{"q":1,"l":"E","p":0.06},{"q":1,"l":"M","p":0.05},{"q":1,"l":"K","p":0.04},{"q":1,"l":"H","p":0.05},{"q":1,"l":"G","p":0.04},{"q":1,"l":"Q","p":0.04},{"q":1,"l":"D","p":0.04},{"q":1,"l":"A","p":0.03},{"q":1,"l":"I","p":0.05},{"q":2,"l":"L","p":0.12},{"q":2,"l":"V","p":0.12},{"q":2,"l":"T","p":0.1},{"q":2,"l":"S","p":0.1},{"q":2,"l":"P","p":0.09},{"q":2,"l":"M","p":0.09},{"q":2,"l":"G","p":0.09},{"q":2,"l":"Q","p":0.06},{"q":2,"l":"R","p":0.07},{"q":2,"l":"A","p":0.06},{"q":2,"l":"E","p":0.05},{"q":2,"l":"N","p":0.03},{"q":2,"l":"K","p":0.02},{"q":3,"l":"R","p":0.15},{"q":3,"l":"S","p":0.09},{"q":3,"l":"L","p":0.09},{"q":3,"l":"V","p":0.07},{"q":3,"l":"P","p":0.06},{"q":3,"l":"M","p":0.06},{"q":3,"l":"K","p":0.07},{"q":3,"l":"G","p":0.06},{"q":3,"l":"E","p":0.07},{"q":3,"l":"Q","p":0.06},{"q":3,"l":"Y","p":0.05},{"q":3,"l":"A","p":0.05},{"q":3,"l":"I","p":0.03},{"q":3,"l":"T","p":0.02},{"q":3,"l":"H","p":0.03},{"q":4,"l":"S","p":0.2},{"q":4,"l":"K","p":0.14},{"q":4,"l":"Q","p":0.1},{"q":4,"l":"V","p":0.07},{"q":4,"l":"P","p":0.07},{"q":4,"l":"H","p":0.06},{"q":4,"l":"R","p":0.07},{"q":4,"l":"I","p":0.03},{"q":4,"l":"G","p":0.05},{"q":4,"l":"E","p":0.05},{"q":4,"l":"A","p":0.05},{"q":4,"l":"T","p":0.03},{"q":4,"l":"N","p":0.05},{"q":5,"l":"R","p":1},{"q":6,"l":"A","p":0.15},{"q":6,"l":"S","p":0.14},{"q":6,"l":"K","p":0.13},{"q":6,"l":"R","p":0.11},{"q":6,"l":"T","p":0.09},{"q":6,"l":"C","p":0.09},{"q":6,"l":"G","p":0.07},{"q":6,"l":"Q","p":0.06},{"q":6,"l":"M","p":0.06},{"q":6,"l":"E","p":0.04},{"q":6,"l":"H","p":0.03},{"q":6,"l":"N","p":0.03},{"q":7,"l":"P","p":0.13},{"q":7,"l":"E","p":0.11},{"q":7,"l":"A","p":0.08},{"q":7,"l":"S","p":0.07},{"q":7,"l":"K","p":0.07},{"q":7,"l":"L","p":0.06},{"q":7,"l":"G","p":0.07},{"q":7,"l":"C","p":0.06},{"q":7,"l":"N","p":0.07},{"q":7,"l":"V","p":0.05},{"q":7,"l":"T","p":0.05},{"q":7,"l":"F","p":0.04},{"q":7,"l":"Q","p":0.04},{"q":7,"l":"W","p":0.04},{"q":7,"l":"H","p":0.06},{"q":8,"l":"S","p":0.91},{"q":8,"l":"T","p":0.09},{"q":9,"l":"P","p":0.19},{"q":9,"l":"L","p":0.15},{"q":9,"l":"F","p":0.13},{"q":9,"l":"D","p":0.09},{"q":9,"l":"V","p":0.06},{"q":9,"l":"Q","p":0.06},{"q":9,"l":"N","p":0.07},{"q":9,"l":"S","p":0.05},{"q":9,"l":"A","p":0.06},{"q":9,"l":"M","p":0.04},{"q":9,"l":"G","p":0.03},{"q":9,"l":"T","p":0.03},{"q":9,"l":"K","p":0.04},{"q":10,"l":"E","p":0.15},{"q":10,"l":"S","p":0.13},{"q":10,"l":"C","p":0.14},{"q":10,"l":"T","p":0.09},{"q":10,"l":"P","p":0.08},{"q":10,"l":"A","p":0.1},{"q":10,"l":"V","p":0.03},{"q":10,"l":"K","p":0.05},{"q":10,"l":"I","p":0.03},{"q":10,"l":"G","p":0.05},{"q":10,"l":"M","p":0.03},{"q":10,"l":"H","p":0.04},{"q":10,"l":"R","p":0.04},{"q":11,"l":"S","p":0.18},{"q":11,"l":"C","p":0.15},{"q":11,"l":"G","p":0.11},{"q":11,"l":"E","p":0.12},{"q":11,"l":"P","p":0.06},{"q":11,"l":"D","p":0.07},{"q":11,"l":"L","p":0.04},{"q":11,"l":"A","p":0.06},{"q":11,"l":"Y","p":0.03},{"q":11,"l":"T","p":0.03},{"q":11,"l":"F","p":0.03},{"q":11,"l":"K","p":0.03},{"q":11,"l":"H","p":0.03},{"q":11,"l":"N","p":0.03},{"q":11,"l":"R","p":0.03},{"q":12,"l":"L","p":0.18},{"q":12,"l":"S","p":0.13},{"q":12,"l":"E","p":0.13},{"q":12,"l":"V","p":0.09},{"q":12,"l":"T","p":0.09},{"q":12,"l":"A","p":0.09},{"q":12,"l":"G","p":0.07},{"q":12,"l":"F","p":0.05},{"q":12,"l":"D","p":0.05},{"q":12,"l":"I","p":0.03},{"q":12,"l":"K","p":0.03},{"q":12,"l":"H","p":0.03},{"q":12,"l":"N","p":0.03},{"q":13,"l":"P","p":0.13},{"q":13,"l":"S","p":0.12},{"q":13,"l":"L","p":0.1},{"q":13,"l":"G","p":0.11},{"q":13,"l":"T","p":0.07},{"q":13,"l":"K","p":0.07},{"q":13,"l":"E","p":0.06},{"q":13,"l":"R","p":0.07},{"q":13,"l":"V","p":0.05},{"q":13,"l":"Q","p":0.04},{"q":13,"l":"C","p":0.05},{"q":13,"l":"A","p":0.05},{"q":13,"l":"M","p":0.03},{"q":13,"l":"N","p":0.05},{"q":14,"l":"P","p":0.13},{"q":14,"l":"K","p":0.14},{"q":14,"l":"E","p":0.12},{"q":14,"l":"G","p":0.13},{"q":14,"l":"T","p":0.09},{"q":14,"l":"V","p":0.06},{"q":14,"l":"S","p":0.07},{"q":14,"l":"C","p":0.06},{"q":14,"l":"Q","p":0.05},{"q":14,"l":"L","p":0.06},{"q":14,"l":"F","p":0.03},{"q":14,"l":"R","p":0.03},{"q":14,"l":"N","p":0.03},{"q":15,"l":"S","p":0.15},{"q":15,"l":"P","p":0.14},{"q":15,"l":"Y","p":0.07},{"q":15,"l":"L","p":0.07},{"q":15,"l":"G","p":0.1},{"q":15,"l":"A","p":0.09},{"q":15,"l":"T","p":0.07},{"q":15,"l":"D","p":0.07},{"q":15,"l":"F","p":0.05},{"q":15,"l":"K","p":0.05},{"q":15,"l":"V","p":0.04},{"q":15,"l":"E","p":0.03},{"q":15,"l":"Q","p":0.03},{"q":15,"l":"N","p":0.04}],
"fl":[{"r":1,"a":3,"b":1,"c":1,"d":2,"e":0,"f":-1,"g":-2,"h":-3,"i":1,"j":0,"k":-2,"l":4,"m":-1,"n":-1,"o":1,"p":-1},{"r":2,"a":3,"b":0,"c":2,"d":1,"e":-1,"f":-1,"g":-2,"h":-2,"i":1,"j":-1,"k":-1,"l":1,"m":2,"n":0,"o":1,"p":0},{"r":3,"a":4,"b":1,"c":2,"d":2,"e":-2,"f":-2,"g":0,"h":-1,"i":2,"j":-1,"k":1,"l":-1,"m":-3,"n":1,"o":-1,"p":1},{"r":4,"a":1,"b":3,"c":1,"d":2,"e":-3,"f":-2,"g":0,"h":0,"i":2,"j":1,"k":-2,"l":0,"m":0,"n":0,"o":1,"p":-3},{"r":5,"a":1,"b":2,"c":2,"d":1,"e":-3,"f":-1,"g":-1,"h":-2,"i":1,"j":-1,"k":1,"l":-1,"m":0,"n":-1,"o":0,"p":-2},{"r":6,"a":0,"b":-2,"c":-2,"d":-2,"e":3,"f":2,"g":3,"h":0,"i":-1,"j":-1,"k":-2,"l":1,"m":0,"n":-1,"o":1,"p":3},{"r":7,"a":-2,"b":-1,"c":-2,"d":-1,"e":1,"f":3,"g":1,"h":1,"i":-2,"j":0,"k":-1,"l":-1,"m":2,"n":-3,"o":-1,"p":1},{"r":8,"a":-2,"b":0,"c":-1,"d":-2,"e":3,"f":3,"g":1,"h":-1,"i":0,"j":-1,"k":0,"l":1,"m":0,"n":0,"o":1,"p":3},{"r":9,"a":-1,"b":0,"c":-3,"d":-1,"e":2,"f":2,"g":2,"h":1,"i":-1,"j":2,"k":-1,"l":-2,"m":0,"n":-1,"o":2,"p":3},{"r":10,"a":-1,"b":0,"c":-3,"d":-2,"e":3,"f":2,"g":1,"h":0,"i":-1,"j":1,"k":-1,"l":1,"m":1,"n":0,"o":1,"p":2},{"r":11,"a":-2,"b":-1,"c":-2,"d":-1,"e":2,"f":4,"g":1,"h":0,"i":-2,"j":-2,"k":1,"l":2,"m":-1,"n":-1,"o":0,"p":3},{"r":12,"a":0,"b":-1,"c":-2,"d":-3,"e":2,"f":3,"g":3,"h":1,"i":-1,"j":-1,"k":-1,"l":1,"m":1,"n":2,"o":0,"p":2},{"r":13,"a":-1,"b":-1,"c":-1,"d":-3,"e":1,"f":2,"g":3,"h":2,"i":-1,"j":0,"k":-2,"l":-1,"m":1,"n":2,"o":0,"p":3},{"r":14,"a":-2,"b":0,"c":-1,"d":-2,"e":2,"f":2,"g":3,"h":2,"i":-1,"j":1,"k":-1,"l":2,"m":-1,"n":-1,"o":0,"p":3},{"r":15,"a":-2,"b":-2,"c":-1,"d":-3,"e":1,"f":3,"g":1,"h":3,"i":-2,"j":-1,"k":0,"l":-1,"m":0,"n":0,"o":1,"p":4},{"r":16,"a":-1,"b":-2,"c":-1,"d":-1,"e":2,"f":2,"g":2,"h":3,"i":-3,"j":1,"k":-1,"l":1,"m":1,"n":-1,"o":1,"p":3},{"r":17,"a":-2,"b":-1,"c":0,"d":-2,"e":4,"f":1,"g":3,"h":1,"i":-1,"j":-1,"k":-2,"l":-1,"m":3,"n":-1,"o":1,"p":3},{"r":18,"a":-3,"b":-1,"c":-1,"d":-1,"e":3,"f":1,"g":3,"h":2,"i":1,"j":-1,"k":-1,"l":1,"m":4,"n":0,"o":1,"p":2},{"r":19,"a":-4,"b":-1,"c":1,"d":0,"e":0,"f":2,"g":2,"h":3,"i":-1,"j":-2,"k":0,"l":-2,"m":-1,"n":1,"o":0,"p":3},{"r":20,"a":-3,"b":-1,"c":-2,"d":-1,"e":-1,"f":2,"g":2,"h":4,"i":-3,"j":1,"k":-1,"l":1,"m":-1,"n":1,"o":0,"p":2},{"r":21,"a":-1,"b":-2,"c":-3,"d":0,"e":0,"f":1,"g":1,"h":4,"i":-1,"j":1,"k":-2,"l":-1,"m":-1,"n":-1,"o":1,"p":2},{"r":22,"a":-2,"b":-2,"c":-2,"d":-1,"e":1,"f":0,"g":2,"h":4,"i":-2,"j":-1,"k":1,"l":-1,"m":0,"n":1,"o":0,"p":3},{"r":23,"a":-3,"b":-2,"c":0,"d":-1,"e":1,"f":1,"g":3,"h":2,"i":-1,"j":-3,"k":-1,"l":1,"m":-1,"n":0,"o":3,"p":3},{"r":24,"a":-3,"b":-1,"c":-3,"d":-2,"e":1,"f":3,"g":2,"h":1,"i":-1,"j":-1,"k":-3,"l":1,"m":0,"n":-1,"o":2,"p":3},{"r":25,"a":-3,"b":0,"c":-1,"d":-1,"e":1,"f":3,"g":2,"h":1,"i":-2,"j":-1,"k":-2,"l":2,"m":0,"n":0,"o":1,"p":3},{"r":26,"a":-2,"b":-1,"c":-2,"d":-1,"e":1,"f":3,"g":2,"h":1,"i":0,"j":2,"k":-1,"l":0,"m":-1,"n":-1,"o":1,"p":4},{"r":27,"a":-3,"b":0,"c":-3,"d":0,"e":1,"f":1,"g":3,"h":2,"i":-2,"j":-1,"k":-2,"l":1,"m":0,"n":-2,"o":-1,"p":3},{"r":28,"a":-3,"b":-1,"c":-1,"d":-1,"e":2,"f":1,"g":2,"h":3,"i":-1,"j":2,"k":-1,"l":-2,"m":-1,"n":-1,"o":2,"p":2},{"r":29,"a":-2,"b":-1,"c":-3,"d":-1,"e":2,"f":2,"g":1,"h":3,"i":-1,"j":-1,"k":-2,"l":1,"m":-1,"n":-2,"o":1,"p":3},{"r":30,"a":-1,"b":-2,"c":-2,"d":-1,"e":3,"f":1,"g":1,"h":3,"i":-2,"j":0,"k":-1,"l":-2,"m":1,"n":-1,"o":0,"p":4},{"r":31,"a":0,"b":-2,"c":-3,"d":0,"e":2,"f":1,"g":1,"h":2,"i":-2,"j":-1,"k":1,"l":1,"m":0,"n":2,"o":2,"p":2},{"r":32,"a":-1,"b":-3,"c":-1,"d":1,"e":2,"f":2,"g":2,"h":1,"i":-3,"j":1,"k":-2,"l":2,"m":-2,"n":-1,"o":-1,"p":2},{"r":33,"a":-1,"b":-1,"c":-1,"d":-2,"e":3,"f":2,"g":2,"h":2,"i":-1,"j":-1,"k":-3,"l":-2,"m":1,"n":-1,"o":2,"p":3},{"r":34,"a":-1,"b":-2,"c":-2,"d":-2,"e":3,"f":2,"g":2,"h":2,"i":-2,"j":0,"k":-4,"l":-1,"m":2,"n":0,"o":1,"p":2},{"r":35,"a":-1,"b":-2,"c":-1,"d":-2,"e":1,"f":4,"g":0,"h":3,"i":-1,"j":1,"k":-2,"l":0,"m":-1,"n":1,"o":1,"p":4},{"r":36,"a":-2,"b":-1,"c":-2,"d":-2,"e":1,"f":3,"g":0,"h":3,"i":-1,"j":1,"k":-2,"l":0,"m":-1,"n":-1,"o":2,"p":4},{"r":37,"a":-2,"b":-1,"c":-2,"d":-1,"e":0,"f":4,"g":0,"h":3,"i":0,"j":1,"k":3,"l":-1,"m":0,"n":-1,"o":2,"p":4},{"r":38,"a":-1,"b":-3,"c":-1,"d":-1,"e":1,"f":3,"g":1,"h":3,"i":-3,"j":-1,"k":-2,"l":1,"m":1,"n":-1,"o":1,"p":3},{"r":39,"a":-3,"b":-2,"c":-1,"d":0,"e":2,"f":2,"g":0,"h":4,"i":-1,"j":-2,"k":-3,"l":-1,"m":-1,"n":0,"o":1,"p":3},{"r":40,"a":-3,"b":-2,"c":-1,"d":0,"e":2,"f":2,"g":0,"h":4,"i":2,"j":-1,"k":-1,"l":3,"m":0,"n":0,"o":3,"p":3},{"r":41,"a":-3,"b":-1,"c":-2,"d":-1,"e":1,"f":2,"g":1,"h":3,"i":-1,"j":-2,"k":-3,"l":-1,"m":4,"n":-1,"o":1,"p":1},{"r":42,"a":-1,"b":-1,"c":-3,"d":-2,"e":3,"f":2,"g":0,"h":3,"i":3,"j":1,"k":-2,"l":1,"m":-1,"n":-2,"o":2,"p":4},{"r":43,"a":-2,"b":-2,"c":-1,"d":0,"e":2,"f":2,"g":1,"h":3,"i":-2,"j":0,"k":-2,"l":1,"m":0,"n":-1,"o":1,"p":4},{"r":44,"a":-2,"b":-2,"c":-3,"d":-1,"e":2,"f":2,"g":1,"h":2,"i":-4,"j":-1,"k":-1,"l":2,"m":1,"n":-1,"o":-1,"p":1},{"r":45,"a":-1,"b":-2,"c":-3,"d":-1,"e":3,"f":2,"g":1,"h":0,"i":-2,"j":-1,"k":-1,"l":1,"m":0,"n":-2,"o":0,"p":3},{"r":46,"a":-2,"b":-1,"c":-3,"d":-1,"e":2,"f":3,"g":0,"h":2,"i":-2,"j":-1,"k":-2,"l":2,"m":-2,"n":-1,"o":1,"p":3},{"r":47,"a":-3,"b":-1,"c":-4,"d":0,"e":2,"f":3,"g":1,"h":1,"i":-1,"j":-1,"k":-1,"l":2,"m":1,"n":-1,"o":0,"p":3},{"r":48,"a":-3,"b":-1,"c":-2,"d":-1,"e":2,"f":3,"g":1,"h":2,"i":-2,"j":0,"k":-2,"l":1,"m":1,"n":-1,"o":1,"p":3},{"r":49,"a":-2,"b":-1,"c":-2,"d":-1,"e":2,"f":2,"g":1,"h":2,"i":-1,"j":-1,"k":-1,"l":1,"m":-1,"n":-1,"o":0,"p":3},{"r":50,"a":-3,"b":-1,"c":-1,"d":-1,"e":3,"f":3,"g":1,"h":2,"i":-1,"j":0,"k":-1,"l":2,"m":0,"n":-2,"o":-1,"p":3},{"r":51,"a":-3,"b":-1,"c":0,"d":0,"e":2,"f":4,"g":1,"h":1,"i":-2,"j":-1,"k":-1,"l":2,"m":0,"n":-1,"o":0,"p":4},{"r":52,"a":-4,"b":-1,"c":-1,"d":0,"e":1,"f":2,"g":1,"h":2,"i":-2,"j":2,"k":0,"l":1,"m":-1,"n":-1,"o":-1,"p":3},{"r":53,"a":-4,"b":-2,"c":-1,"d":-1,"e":3,"f":2,"g":0,"h":1,"i":-1,"j":-1,"k":-1,"l":0,"m":3,"n":-1,"o":0,"p":4},{"r":54,"a":-3,"b":-1,"c":0,"d":-1,"e":1,"f":1,"g":1,"h":3,"i":-3,"j":3,"k":-1,"l":1,"m":1,"n":-1,"o":1,"p":3},{"r":55,"a":-3,"b":0,"c":-3,"d":-1,"e":2,"f":1,"g":0,"h":2,"i":-1,"j":-1,"k":-2,"l":-1,"m":2,"n":-2,"o":2,"p":4},{"r":56,"a":-2,"b":0,"c":-3,"d":-1,"e":2,"f":3,"g":1,"h":1,"i":-1,"j":0,"k":-3,"l":0,"m":0,"n":-1,"o":2,"p":3},{"r":57,"a":-3,"b":0,"c":-3,"d":-1,"e":2,"f":3,"g":1,"h":1,"i":0,"j":-1,"k":-2,"l":1,"m":-1,"n":-1,"o":-1,"p":3},{"r":58,"a":-3,"b":1,"c":-3,"d":0,"e":1,"f":2,"g":1,"h":2,"i":-1,"j":-2,"k":-2,"l":2,"m":1,"n":-1,"o":-1,"p":3},{"r":59,"a":-3,"b":0,"c":-2,"d":-1,"e":1,"f":1,"g":1,"h":2,"i":-2,"j":-1,"k":-2,"l":1,"m":0,"n":0,"o":-1,"p":3},{"r":60,"a":-3,"b":0,"c":-3,"d":-1,"e":0,"f":3,"g":1,"h":2,"i":-1,"j":1,"k":-2,"l":2,"m":1,"n":-1,"o":0,"p":4}],
"fr":[{"r":1,"a":-2,"b":-2,"c":-1,"d":-2,"e":0,"f":4,"g":1,"h":2,"i":-3,"j":-1,"k":0,"l":-1,"m":-2,"n":-1,"o":3,"p":3},{"r":2,"a":1,"b":-4,"c":-1,"d":-1,"e":1,"f":0,"g":1,"h":3,"i":-3,"j":-1,"k":-2,"l":0,"m":-1,"n":2,"o":3,"p":3},{"r":3,"a":-1,"b":1,"c":-4,"d":-2,"e":1,"f":1,"g":1,"h":1,"i":-4,"j":-1,"k":-2,"l":-1,"m":2,"n":1,"o":3,"p":1},{"r":4,"a":-2,"b":-2,"c":0,"d":1,"e":1,"f":-2,"g":3,"h":1,"i":-3,"j":-1,"k":-2,"l":0,"m":2,"n":1,"o":3,"p":1},{"r":5,"a":-2,"b":-4,"c":1,"d":1,"e":-1,"f":0,"g":2,"h":2,"i":-4,"j":0,"k":-2,"l":1,"m":0,"n":0,"o":2,"p":3},{"r":6,"a":-3,"b":-1,"c":-1,"d":-1,"e":2,"f":1,"g":0,"h":2,"i":-3,"j":0,"k":-2,"l":0,"m":0,"n":1,"o":2,"p":4},{"r":7,"a":-3,"b":-3,"c":0,"d":1,"e":1,"f":1,"g":1,"h":3,"i":-3,"j":-1,"k":-2,"l":0,"m":1,"n":1,"o":1,"p":4},{"r":8,"a":-3,"b":0,"c":-3,"d":-1,"e":1,"f":2,"g":2,"h":1,"i":-1,"j":-3,"k":-2,"l":-1,"m":2,"n":1,"o":0,"p":4},{"r":9,"a":-3,"b":1,"c":-2,"d":-3,"e":1,"f":1,"g":3,"h":2,"i":-2,"j":-2,"k":-3,"l":-1,"m":0,"n":1,"o":2,"p":4},{"r":10,"a":0,"b":-3,"c":-3,"d":0,"e":1,"f":0,"g":2,"h":3,"i":-2,"j":-1,"k":-3,"l":-1,"m":1,"n":0,"o":4,"p":3},{"r":11,"a":0,"b":-2,"c":1,"d":-2,"e":-1,"f":4,"g":-1,"h":1,"i":-2,"j":-2,"k":-3,"l":-1,"m":1,"n":1,"o":3,"p":3},{"r":12,"a":-1,"b":-3,"c":-2,"d":-1,"e":0,"f":0,"g":2,"h":4,"i":-2,"j":-2,"k":-2,"l":-1,"m":1,"n":1,"o":3,"p":3},{"r":13,"a":0,"b":-4,"c":-2,"d":-1,"e":1,"f":1,"g":2,"h":2,"i":-2,"j":-2,"k":-2,"l":-1,"m":1,"n":1,"o":3,"p":3},{"r":14,"a":-3,"b":1,"c":-3,"d":-1,"e":1,"f":2,"g":1,"h":2,"i":-2,"j":-3,"k":-2,"l":1,"m":0,"n":0,"o":2,"p":4},{"r":15,"a":-2,"b":0,"c":-3,"d":-1,"e":1,"f":3,"g":2,"h":1,"i":-2,"j":-3,"k":-2,"l":0,"m":2,"n":-1,"o":2,"p":3},{"r":16,"a":2,"b":-1,"c":-2,"d":1,"e":0,"f":-1,"g":4,"h":-2,"i":-3,"j":-3,"k":-2,"l":1,"m":2,"n":-1,"o":3,"p":3},{"r":17,"a":2,"b":-1,"c":-2,"d":1,"e":0,"f":-1,"g":4,"h":-2,"i":-3,"j":-3,"k":-2,"l":1,"m":2,"n":-1,"o":3,"p":3},{"r":18,"a":-1,"b":-3,"c":-2,"d":0,"e":2,"f":0,"g":0,"h":4,"i":-3,"j":-1,"k":-1,"l":-2,"m":1,"n":2,"o":3,"p":1},{"r":19,"a":2,"b":-2,"c":2,"d":-2,"e":-2,"f":1,"g":1,"h":1,"i":-3,"j":-1,"k":-1,"l":-2,"m":1,"n":2,"o":3,"p":2},{"r":20,"a":-2,"b":1,"c":0,"d":2,"e":-2,"f":-3,"g":3,"h":1,"i":-1,"j":-4,"k":0,"l":-2,"m":0,"n":2,"o":3,"p":2},{"r":21,"a":3,"b":1,"c":-2,"d":1,"e":-3,"f":-1,"g":-1,"h":-1,"i":-1,"j":-4,"k":-1,"l":-2,"m":2,"n":2,"o":3,"p":1},{"r":22,"a":2,"b":0,"c":1,"d":-4,"e":1,"f":2,"g":0,"h":-2,"i":-1,"j":-3,"k":-3,"l":-1,"m":0,"n":2,"o":3,"p":2},{"r":23,"a":-2,"b":-2,"c":-1,"d":1,"e":3,"f":2,"g":0,"h":3,"i":-1,"j":-3,"k":-3,"l":-1,"m":1,"n":2,"o":3,"p":2},{"r":24,"a":-2,"b":-3,"c":0,"d":0,"e":0,"f":4,"g":0,"h":2,"i":-1,"j":-3,"k":-2,"l":-3,"m":3,"n":1,"o":3,"p":-1},{"r":25,"a":-2,"b":3,"c":-2,"d":1,"e":-3,"f":1,"g":0,"h":2,"i":1,"j":-1,"k":-1,"l":-3,"m":4,"n":1,"o":2,"p":-1},{"r":26,"a":4,"b":0,"c":-1,"d":1,"e":-2,"f":2,"g":0,"h":-2,"i":1,"j":-1,"k":-1,"l":-4,"m":3,"n":1,"o":1,"p":1},{"r":27,"a":-3,"b":1,"c":2,"d":1,"e":-3,"f":2,"g":0,"h":1,"i":1,"j":-1,"k":-1,"l":-4,"m":3,"n":1,"o":3,"p":0},{"r":28,"a":-3,"b":1,"c":-3,"d":1,"e":-1,"f":2,"g":0,"h":1,"i":1,"j":-2,"k":0,"l":-4,"m":3,"n":1,"o":2,"p":-1},{"r":29,"a":2,"b":0,"c":1,"d":0,"e":-3,"f":1,"g":1,"h":1,"i":1,"j":2,"k":-4,"l":-1,"m":1,"n":1,"o":3,"p":1},{"r":30,"a":0,"b":-1,"c":2,"d":1,"e":-3,"f":3,"g":-1,"h":1,"i":-2,"j":2,"k":-2,"l":1,"m":-1,"n":2,"o":2,"p":1},{"r":31,"a":2,"b":0,"c":-1,"d":0,"e":-2,"f":0,"g":3,"h":1,"i":-1,"j":-2,"k":-4,"l":-2,"m":-1,"n":2,"o":3,"p":1},{"r":32,"a":2,"b":1,"c":-1,"d":0,"e":-1,"f":1,"g":3,"h":-2,"i":-1,"j":-2,"k":-4,"l":-1,"m":1,"n":2,"o":3,"p":1},{"r":33,"a":-1,"b":0,"c":-2,"d":1,"e":0,"f":-2,"g":0,"h":3,"i":-2,"j":-3,"k":-3,"l":0,"m":1,"n":2,"o":2,"p":1},{"r":34,"a":2,"b":1,"c":-2,"d":1,"e":-1,"f":-1,"g":1,"h":-2,"i":-3,"j":-2,"k":-3,"l":1,"m":1,"n":2,"o":2,"p":1},{"r":35,"a":-1,"b":-2,"c":1,"d":2,"e":3,"f":1,"g":-1,"h":-2,"i":-3,"j":-2,"k":-2,"l":1,"m":1,"n":2,"o":2,"p":3},{"r":36,"a":2,"b":-1,"c":0,"d":-1,"e":2,"f":1,"g":-1,"h":-3,"i":-3,"j":-2,"k":-3,"l":1,"m":1,"n":2,"o":2,"p":2},{"r":37,"a":1,"b":-2,"c":-1,"d":-1,"e":3,"f":1,"g":-1,"h":-2,"i":-2,"j":-3,"k":-3,"l":1,"m":1,"n":2,"o":1,"p":2},{"r":38,"a":-2,"b":0,"c":-3,"d":-1,"e":0,"f":1,"g":3,"h":0,"i":-2,"j":-3,"k":-1,"l":1,"m":2,"n":1,"o":2,"p":2},{"r":39,"a":-2,"b":-1,"c":-2,"d":-1,"e":0,"f":1,"g":-1,"h":3,"i":-2,"j":-1,"k":-2,"l":-2,"m":3,"n":1,"o":2,"p":2},{"r":40,"a":-1,"b":0,"c":-2,"d":-1,"e":3,"f":2,"g":2,"h":-1,"i":-3,"j":-2,"k":1,"l":-2,"m":3,"n":1,"o":2,"p":1},{"r":41,"a":0,"b":-2,"c":-2,"d":2,"e":1,"f":-1,"g":2,"h":3,"i":-4,"j":-2,"k":0,"l":-1,"m":3,"n":1,"o":2,"p":1},{"r":42,"a":0,"b":-1,"c":-1,"d":-1,"e":4,"f":-1,"g":2,"h":1,"i":-3,"j":-2,"k":0,"l":-1,"m":3,"n":1,"o":3,"p":1},{"r":43,"a":-1,"b":-2,"c":-3,"d":0,"e":1,"f":0,"g":3,"h":1,"i":-3,"j":-2,"k":-1,"l":0,"m":3,"n":0,"o":3,"p":1},{"r":44,"a":-1,"b":-3,"c":-1,"d":0,"e":4,"f":2,"g":1,"h":0,"i":-2,"j":-3,"k":0,"l":-1,"m":3,"n":1,"o":3,"p":1},{"r":45,"a":-2,"b":-1,"c":-1,"d":0,"e":-2,"f":0,"g":4,"h":1,"i":-2,"j":-3,"k":0,"l":-1,"m":3,"n":1,"o":3,"p":2},{"r":46,"a":-1,"b":-1,"c":1,"d":1,"e":0,"f":-3,"g":0,"h":3,"i":-2,"j":-1,"k":0,"l":-1,"m":4,"n":1,"o":2,"p":0},{"r":47,"a":4,"b":-2,"c":0,"d":1,"e":0,"f":-1,"g":-1,"h":0,"i":-1,"j":-3,"k":-2,"l":0,"m":3,"n":1,"o":3,"p":0},{"r":48,"a":2,"b":-1,"c":-1,"d":3,"e":0,"f":-1,"g":-1,"h":1,"i":-1,"j":-1,"k":-1,"l":-3,"m":2,"n":0,"o":3,"p":2},{"r":49,"a":0,"b":-1,"c":-1,"d":2,"e":-4,"f":1,"g":2,"h":0,"i":-2,"j":-3,"k":-1,"l":-3,"m":2,"n":0,"o":3,"p":1},{"r":50,"a":3,"b":0,"c":0,"d":-2,"e":-2,"f":0,"g":-1,"h":3,"i":-1,"j":-3,"k":-3,"l":-1,"m":2,"n":0,"o":4,"p":1},{"r":51,"a":1,"b":-2,"c":2,"d":2,"e":-2,"f":-1,"g":-1,"h":3,"i":-1,"j":-3,"k":-1,"l":-1,"m":3,"n":1,"o":3,"p":0},{"r":52,"a":1,"b":-2,"c":2,"d":2,"e":-2,"f":-1,"g":-1,"h":3,"i":-2,"j":-3,"k":-2,"l":-1,"m":3,"n":1,"o":3,"p":0},{"r":53,"a":-1,"b":0,"c":0,"d":4,"e":2,"f":-2,"g":-2,"h":0,"i":1,"j":1,"k":0,"l":3,"m":-4,"n":-1,"o":0,"p":0},{"r":54,"a":-4,"b":0,"c":-1,"d":-2,"e":1,"f":1,"g":3,"h":2,"i":0,"j":3,"k":1,"l":3,"m":-2,"n":-1,"o":-2,"p":0},{"r":55,"a":0,"b":3,"c":-3,"d":2,"e":-1,"f":1,"g":0,"h":1,"i":0,"j":3,"k":1,"l":3,"m":-1,"n":-3,"o":-1,"p":-2},{"r":56,"a":-2,"b":-1,"c":1,"d":0,"e":3,"f":2,"g":1,"h":-1,"i":-1,"j":2,"k":0,"l":4,"m":-2,"n":-1,"o":-1,"p":-1},{"r":57,"a":-2,"b":1,"c":-1,"d":1,"e":0,"f":-3,"g":3,"h":-1,"i":-1,"j":2,"k":1,"l":4,"m":-2,"n":-1,"o":-2,"p":-1},{"r":58,"a":1,"b":0,"c":2,"d":-2,"e":1,"f":2,"g":0,"h":-4,"i":0,"j":1,"k":2,"l":3,"m":-1,"n":-1,"o":-1,"p":-3},{"r":59,"a":-3,"b":3,"c":1,"d":2,"e":-1,"f":0,"g":-1,"h":-1,"i":2,"j":2,"k":2,"l":4,"m":-2,"n":-1,"o":-3,"p":-3},{"r":60,"a":-1,"b":0,"c":3,"d":2,"e":1,"f":-3,"g":0,"h":0,"i":2,"j":1,"k":2,"l":4,"m":-1,"n":-2,"o":-2,"p":-3},{"r":61,"a":-1,"b":1,"c":1,"d":3,"e":0,"f":-1,"g":-3,"h":-2,"i":2,"j":1,"k":2,"l":4,"m":-3,"n":-1,"o":-2,"p":-1},{"r":62,"a":0,"b":0,"c":2,"d":1,"e":-2,"f":-3,"g":2,"h":2,"i":2,"j":2,"k":2,"l":3,"m":-2,"n":-2,"o":-1,"p":-2},{"r":63,"a":0,"b":0,"c":2,"d":0,"e":-4,"f":0,"g":-1,"h":3,"i":2,"j":2,"k":2,"l":3,"m":-3,"n":-1,"o":-1,"p":-2},{"r":64,"a":-3,"b":-1,"c":2,"d":3,"e":1,"f":0,"g":0,"h":-1,"i":2,"j":4,"k":2,"l":-1,"m":-1,"n":0,"o":-3,"p":-2},{"r":65,"a":-2,"b":4,"c":-1,"d":-1,"e":-1,"f":0,"g":-1,"h":-1,"i":2,"j":4,"k":2,"l":-1,"m":-2,"n":-2,"o":-2,"p":-1},{"r":66,"a":-2,"b":-1,"c":1,"d":-1,"e":3,"f":-1,"g":3,"h":-1,"i":2,"j":3,"k":3,"l":-1,"m":-2,"n":-2,"o":-2,"p":-1},{"r":67,"a":-1,"b":2,"c":0,"d":1,"e":-4,"f":-1,"g":0,"h":-1,"i":2,"j":3,"k":3,"l":-1,"m":-2,"n":-1,"o":-2,"p":-1},{"r":68,"a":-1,"b":3,"c":0,"d":-2,"e":-1,"f":2,"g":1,"h":-3,"i":2,"j":3,"k":3,"l":0,"m":-3,"n":-2,"o":-1,"p":-2},{"r":69,"a":3,"b":0,"c":2,"d":-2,"e":-1,"f":1,"g":-2,"h":-2,"i":2,"j":3,"k":3,"l":0,"m":-2,"n":-1,"o":-3,"p":-1},{"r":70,"a":-3,"b":2,"c":0,"d":-3,"e":-1,"f":-1,"g":3,"h":1,"i":2,"j":3,"k":2,"l":1,"m":-3,"n":-1,"o":-2,"p":-2},{"r":71,"a":0,"b":2,"c":1,"d":-3,"e":-1,"f":-2,"g":3,"h":-1,"i":2,"j":3,"k":2,"l":1,"m":-1,"n":-1,"o":-2,"p":-3},{"r":72,"a":-1,"b":3,"c":1,"d":1,"e":-3,"f":0,"g":-1,"h":0,"i":2,"j":3,"k":4,"l":1,"m":-2,"n":-1,"o":-2,"p":-4},{"r":73,"a":2,"b":0,"c":2,"d":1,"e":-1,"f":-3,"g":-1,"h":-1,"i":2,"j":3,"k":3,"l":0,"m":-2,"n":-2,"o":-2,"p":-3},{"r":74,"a":-2,"b":2,"c":3,"d":0,"e":-3,"f":1,"g":1,"h":0,"i":2,"j":3,"k":3,"l":0,"m":-2,"n":-1,"o":-2,"p":-3},{"r":75,"a":0,"b":2,"c":0,"d":1,"e":2,"f":3,"g":-3,"h":-2,"i":2,"j":1,"k":0,"l":2,"m":-2,"n":0,"o":-3,"p":-3},{"r":76,"a":-1,"b":1,"c":1,"d":0,"e":2,"f":1,"g":-3,"h":-1,"i":2,"j":1,"k":1,"l":2,"m":1,"n":-1,"o":-3,"p":-3},{"r":77,"a":2,"b":2,"c":1,"d":0,"e":-1,"f":-3,"g":1,"h":-2,"i":3,"j":1,"k":1,"l":2,"m":1,"n":-2,"o":-3,"p":-2},{"r":78,"a":2,"b":2,"c":1,"d":0,"e":-1,"f":-3,"g":1,"h":-2,"i":3,"j":1,"k":1,"l":2,"m":1,"n":-2,"o":-3,"p":-2},{"r":79,"a":3,"b":0,"c":-1,"d":1,"e":1,"f":2,"g":1,"h":-3,"i":2,"j":2,"k":1,"l":1,"m":-1,"n":0,"o":-3,"p":-4},{"r":80,"a":-1,"b":3,"c":2,"d":1,"e":-3,"f":-2,"g":0,"h":-1,"i":3,"j":1,"k":1,"l":0,"m":1,"n":-2,"o":-3,"p":-2},{"r":81,"a":2,"b":1,"c":2,"d":-2,"e":1,"f":2,"g":-3,"h":-1,"i":2,"j":2,"k":1,"l":0,"m":1,"n":-1,"o":-3,"p":-3},{"r":82,"a":0,"b":-2,"c":3,"d":1,"e":1,"f":2,"g":-3,"h":-2,"i":3,"j":1,"k":1,"l":0,"m":1,"n":-1,"o":-3,"p":-3},{"r":83,"a":1,"b":1,"c":1,"d":2,"e":2,"f":0,"g":-2,"h":-4,"i":4,"j":0,"k":3,"l":1,"m":-1,"n":-2,"o":-4,"p":-1},{"r":84,"a":1,"b":-1,"c":3,"d":2,"e":0,"f":1,"g":-1,"h":-2,"i":4,"j":1,"k":2,"l":1,"m":0,"n":-1,"o":-2,"p":-1},{"r":85,"a":2,"b":0,"c":0,"d":2,"e":-3,"f":-2,"g":2,"h":3,"i":3,"j":2,"k":2,"l":-1,"m":-1,"n":-3,"o":-2,"p":-1},{"r":86,"a":-2,"b":3,"c":1,"d":-1,"e":-2,"f":-2,"g":1,"h":2,"i":4,"j":2,"k":2,"l":-1,"m":-1,"n":-1,"o":-2,"p":-1},{"r":87,"a":0,"b":1,"c":-1,"d":3,"e":-1,"f":0,"g":-4,"h":1,"i":4,"j":2,"k":2,"l":-2,"m":0,"n":0,"o":-2,"p":-1},{"r":88,"a":-1,"b":3,"c":2,"d":1,"e":-3,"f":-2,"g":1,"h":1,"i":3,"j":1,"k":1,"l":-2,"m":1,"n":0,"o":-2,"p":-3},{"r":89,"a":-1,"b":3,"c":2,"d":1,"e":-3,"f":-2,"g":1,"h":1,"i":3,"j":1,"k":1,"l":-2,"m":1,"n":0,"o":-2,"p":-3},{"r":90,"a":-1,"b":3,"c":2,"d":1,"e":-3,"f":-2,"g":1,"h":0,"i":3,"j":1,"k":1,"l":-2,"m":1,"n":0,"o":-2,"p":-3},{"r":91,"a":-1,"b":-1,"c":2,"d":1,"e":-3,"f":-1,"g":1,"h":1,"i":3,"j":2,"k":2,"l":-2,"m":-1,"n":0,"o":-2,"p":-3},{"r":92,"a":-1,"b":2,"c":2,"d":0,"e":-4,"f":0,"g":1,"h":1,"i":2,"j":1,"k":3,"l":-2,"m":0,"n":-1,"o":-2,"p":-3},{"r":93,"a":-1,"b":2,"c":2,"d":0,"e":-2,"f":-1,"g":-3,"h":3,"i":3,"j":4,"k":1,"l":-1,"m":0,"n":-1,"o":-2,"p":-2},{"r":94,"a":1,"b":-2,"c":2,"d":4,"e":-2,"f":-1,"g":0,"h":0,"i":3,"j":3,"k":2,"l":-1,"m":0,"n":-1,"o":-2,"p":-1},{"r":95,"a":3,"b":1,"c":2,"d":1,"e":-3,"f":-1,"g":-1,"h":0,"i":2,"j":1,"k":3,"l":0,"m":0,"n":-1,"o":-1,"p":-4},{"r":96,"a":-1,"b":1,"c":2,"d":4,"e":-1,"f":2,"g":-2,"h":-1,"i":1,"j":2,"k":3,"l":0,"m":0,"n":-1,"o":-3,"p":-1},{"r":97,"a":-1,"b":1,"c":2,"d":4,"e":-1,"f":2,"g":-2,"h":-1,"i":1,"j":2,"k":3,"l":0,"m":0,"n":-1,"o":-3,"p":-1},{"r":98,"a":-1,"b":-1,"c":1,"d":2,"e":0,"f":1,"g":-2,"h":0,"i":1,"j":2,"k":3,"l":0,"m":0,"n":-1,"o":-2,"p":-2}]
},
"resolve":{"scale":{"x":"independent","y":"independent","color":"independent","size":"independent"},"axis":{"x":"independent","y":"independent"},"legend":{"color":"independent"}},
"layer":[
{"encoding":{"x":{"field":"x","type":"quantitative","scale":{"domain":[-3.23,3.23],"range":[62,472],"nice":false,"zero":false},"axis":{"orient":"bottom","offset":-700,"title":"Log2(FC)","values":[-3,-2,-1,0,1,2,3],"format":"d","domainColor":"black","domainWidth":2,"tickColor":"black","tickSize":3,"tickWidth":1.2,"labelColor":"#333","labelFontWeight":"bold","labelFontSize":14.5,"titleFontSize":17.5,"titleColor":"#333","titleFontWeight":"bold","titlePadding":3}},"y":{"field":"y","type":"quantitative","scale":{"domain":[-0.48,10.48],"range":[458,62],"nice":false,"zero":false},"axis":{"orient":"left","offset":-62,"title":"−Log10(FDR)","values":[0,2.5,5,7.5,10],"format":".1f","domainColor":"black","domainWidth":2,"tickColor":"black","tickSize":3,"tickWidth":1.2,"labelColor":"#333","labelFontWeight":"bold","labelFontSize":14.5,"labelOffset":3,"titleFontSize":17.5,"titleColor":"#333","titleFontWeight":"bold","titlePadding":3}}},
"layer":[
{"data":{"name":"aarea"},"mark":{"type":"area","color":"black"},"encoding":{"y2":{"datum":-0.02}}},
{"data":{"name":"ablack"},"mark":{"type":"circle","color":"black","size":36,"opacity":1}},
{"data":{"name":"ared"},"mark":{"type":"circle","color":"#FF0000","size":36,"opacity":1}},
{"data":{"name":"dash"},"mark":{"type":"rule","color":"black","strokeWidth":1.5,"strokeDash":[8,6]},"encoding":{"x2":{"field":"x2"},"y2":{"field":"y2"}}},
{"data":{"name":"acon"},"mark":{"type":"rule","color":"black","strokeWidth":1.2},"encoding":{"x2":{"field":"x2"},"y2":{"field":"y2"}}},
{"data":{"name":"alab"},"mark":{"type":"text","color":"#999","fontSize":10.5},"encoding":{"text":{"field":"t"}}},
{"data":{"values":[{"x":-0.08,"y":11.64,"t":"Phosphorylation post-exercise vs pre-exercise"},{"x":-0.08,"y":10.9,"t":"Lean"}]},"mark":{"type":"text","color":"black","fontSize":19.5,"fontWeight":"bold"},"encoding":{"text":{"field":"t"}}}
]},
{"encoding":{"x":{"field":"x","type":"quantitative","scale":{"domain":[-3.23,3.23],"range":[532,943],"nice":false,"zero":false},"axis":{"orient":"bottom","offset":-700,"title":"Log2(FC)","values":[-3,-2,-1,0,1,2,3],"format":"d","domainColor":"black","domainWidth":2,"tickColor":"black","tickSize":3,"tickWidth":1.2,"labelColor":"#333","labelFontWeight":"bold","labelFontSize":14.5,"titleFontSize":17.5,"titleColor":"#333","titleFontWeight":"bold","titlePadding":3}},"y":{"field":"y","type":"quantitative","scale":{"domain":[-0.48,10.48],"range":[458,62],"nice":false,"zero":false},"axis":{"orient":"left","offset":-532,"title":"−Log10(FDR)","values":[0,2.5,5,7.5,10],"format":".1f","domainColor":"black","domainWidth":2,"tickColor":"black","tickSize":3,"tickWidth":1.2,"labelColor":"#333","labelFontWeight":"bold","labelFontSize":14.5,"labelOffset":3,"titleFontSize":17.5,"titleColor":"#333","titleFontWeight":"bold","titlePadding":3}}},
"layer":[
{"data":{"name":"barea"},"mark":{"type":"area","color":"black"},"encoding":{"y2":{"datum":-0.02}}},
{"data":{"name":"bblack"},"mark":{"type":"circle","color":"black","size":36,"opacity":1}},
{"data":{"name":"bred"},"mark":{"type":"circle","color":"#FF0000","size":36,"opacity":1}},
{"data":{"name":"dash"},"mark":{"type":"rule","color":"black","strokeWidth":1.5,"strokeDash":[8,6]},"encoding":{"x2":{"field":"x2"},"y2":{"field":"y2"}}},
{"data":{"name":"bcon"},"mark":{"type":"rule","color":"black","strokeWidth":1.2},"encoding":{"x2":{"field":"x2"},"y2":{"field":"y2"}}},
{"data":{"name":"blab"},"mark":{"type":"text","color":"#999","fontSize":10.5},"encoding":{"text":{"field":"t"}}},
{"data":{"values":[{"x":0.05,"y":11.6,"t":"Phosphorylation post-exercise vs pre-exercise"},{"x":0.05,"y":10.87,"t":"Obesity"}]},"mark":{"type":"text","color":"black","fontSize":19.5,"fontWeight":"bold"},"encoding":{"text":{"field":"t"}}}
]},
{"encoding":{"x":{"field":"x","type":"quantitative","scale":{"domain":[0,100],"range":[1000,1920],"nice":false},"axis":null},"y":{"field":"y","type":"quantitative","scale":{"domain":[0,100],"range":[0,330],"nice":false},"axis":null}},
"layer":[
{"data":{"values":[{"x":37.8,"y":52.1}]},"mark":{"type":"point","filled":true,"size":19600,"fill":"#DDFAC0","stroke":"black","strokeWidth":2.2,"opacity":1}},
{"data":{"values":[{"x":17.6,"y":52.1}]},"mark":{"type":"point","filled":true,"size":84100,"fill":"#E6FBFF","stroke":"black","strokeWidth":2.2,"opacity":1,"blend":"multiply"}},
{"data":{"values":[{"x":64.3,"y":51.5}]},"mark":{"type":"point","filled":true,"size":54289,"fill":"#DDFAC0","stroke":"black","strokeWidth":2.2,"opacity":1}},
{"data":{"values":[{"x":87.7,"y":51.5}]},"mark":{"type":"point","filled":true,"size":32761,"fill":"#E6FBFF","stroke":"black","strokeWidth":2.2,"opacity":1}},
{"data":{"values":[{"x":16.1,"y":52.1,"t":"219"},{"x":31.8,"y":52.1,"t":"7"},{"x":39.5,"y":52.1,"t":"45"},{"x":64.5,"y":50.6,"t":"46"},{"x":87.7,"y":52.4,"t":"26"}]},"mark":{"type":"text","font":"Liberation Serif","fontSize":14,"color":"#222"},"encoding":{"text":{"field":"t"}}},
{"data":{"values":[{"x":6.7,"y":6.7,"t":"Lean Up"},{"x":39.9,"y":24.8,"t":"Obesity Up"},{"x":56.5,"y":11.5,"t":"Obesity Down"},{"x":93.2,"y":19.7,"t":"Lean Down"}]},"mark":{"type":"text","fontSize":22,"fontWeight":"bold","color":"#111"},"encoding":{"text":{"field":"t"}}}
]},
{"data":{"name":"dtree"},"layer":[
{"mark":{"type":"rule","color":"#333","strokeWidth":1.1},"encoding":{"x":{"field":"h","type":"quantitative","scale":{"domain":[0,40],"range":[85.5,45.7],"nice":false},"axis":null},"y":{"field":"a","type":"quantitative","scale":{"domain":[0.5,28.5],"range":[535,1041],"nice":false,"zero":false},"axis":null},"y2":{"field":"b"}}},
{"mark":{"type":"rule","color":"#333","strokeWidth":1.1},"encoding":{"x":{"field":"p","type":"quantitative","scale":{"domain":[0,40],"range":[85.5,45.7],"nice":false},"axis":null},"x2":{"field":"h"},"y":{"field":"a","type":"quantitative","scale":{"domain":[0.5,28.5],"range":[535,1041],"nice":false,"zero":false},"axis":null}}},
{"mark":{"type":"rule","color":"#333","strokeWidth":1.1},"encoding":{"x":{"field":"q","type":"quantitative","scale":{"domain":[0,40],"range":[85.5,45.7],"nice":false},"axis":null},"x2":{"field":"h"},"y":{"field":"b","type":"quantitative","scale":{"domain":[0.5,28.5],"range":[535,1041],"nice":false,"zero":false},"axis":null}}}
]},
{"data":{"name":"nes"},"encoding":{"y":{"field":"n","type":"nominal","sort":null,"scale":{"range":[535,1041],"paddingInner":0,"paddingOuter":0},"axis":{"orient":"right","offset":-1733,"title":null,"domain":false,"ticks":false,"labelFontSize":11,"labelColor":"#222","labelPadding":3,"labelLimit":300}}},
"layer":[
{"transform":[{"fold":["L","O"]}],"mark":{"type":"rect"},"encoding":{"x":{"field":"key","type":"nominal","scale":{"domain":["L","O"],"range":[85.5,187],"paddingInner":0,"paddingOuter":0},"axis":{"orient":"bottom","offset":-117,"title":null,"domain":false,"ticks":false,"labelAngle":-42,"labelAlign":"right","labelBaseline":"top","labelFontSize":16.5,"labelColor":"#222","labelLimit":300,"labelPadding":2,"labelExpr":"datum.value=='L'?'Lean Pre Vs Post':'Obese Pre Vs Post'"}},"color":{"field":"value","type":"quantitative","scale":{"domain":[-10,-7.5,0,7.5,10],"range":["#0000FF","#0000FF","#F2EEEE","#FF0000","#FF0000"],"interpolate":"lab"},"legend":{"orient":"none","legendX":394,"legendY":866,"title":null,"gradientLength":96,"gradientThickness":19,"values":[10,5,0,-5,-10],"labelFontSize":14,"labelColor":"#222","direction":"vertical","tickCount":5}}}},
{"transform":[{"filter":"datum.a==1"}],"mark":{"type":"text","text":"*","color":"white","fontSize":13,"fontWeight":"bold"},"encoding":{"x":{"datum":"L","type":"nominal","scale":{"domain":["L","O"],"range":[85.5,187],"paddingInner":0,"paddingOuter":0}}}},
{"transform":[{"filter":"datum.b==1"}],"mark":{"type":"text","text":"*","color":"white","fontSize":13,"fontWeight":"bold"},"encoding":{"x":{"datum":"O","type":"nominal","scale":{"domain":["L","O"],"range":[85.5,187],"paddingInner":0,"paddingOuter":0}}}}
]},
{"data":{"name":"logo1"},"transform":[{"window":[{"op":"row_number","as":"rk"}],"groupby":["q"]},{"stack":"p","groupby":["q"],"sort":[{"field":"rk","order":"descending"}],"offset":"normalize","as":["y0","y1"]}],"encoding":{"x":{"field":"q","type":"ordinal","scale":{"domain":[1,2,3,4,5,6,7,8,9,10,11,12,13,14,15],"range":[551.7,956],"paddingInner":0,"paddingOuter":0},"axis":{"orient":"bottom","offset":-452.3,"title":null,"domain":false,"ticks":false,"labelAngle":0,"labelFontSize":12,"labelColor":"#333","labelPadding":9}}},
"layer":[
{"transform":[{"filter":"datum.p<0.08"}],"mark":{"type":"rect","opacity":0.2},"encoding":{"y":{"field":"y0","type":"quantitative","scale":{"domain":[0,1],"range":[705.7,562],"nice":false},"axis":{"orient":"left","offset":-530,"title":"Probability","values":[0,0.25,0.5,0.75,1],"format":".2f","domain":false,"ticks":false,"labelFontSize":12,"labelColor":"#333","labelPadding":2,"titleFontSize":12,"titleFontWeight":"normal","titleColor":"#333","titlePadding":3}},"y2":{"field":"y1"},"color":{"field":"l","type":"nominal","scale":{"domain":["A","C","D","E","F","G","H","I","K","L","M","N","P","Q","R","S","T","V","W","Y"],"range":["#1A1A1A","#109648","#D62839","#D62839","#1A1A1A","#109648","#21599F","#1A1A1A","#21599F","#1A1A1A","#1A1A1A","#5E2CA5","#1A1A1A","#5E2CA5","#21599F","#109648","#109648","#1A1A1A","#1A1A1A","#109648"]},"legend":null}}},
{"transform":[{"filter":"datum.p<0.5"}],"mark":{"type":"text","font":"DejaVu Sans","fontWeight":"bold","baseline":"alphabetic","align":"center"},"encoding":{"y":{"field":"y0","type":"quantitative","scale":{"domain":[0,1],"range":[705.7,562],"nice":false}},"text":{"field":"l"},"size":{"field":"p","type":"quantitative","scale":{"type":"pow","exponent":0.9,"domain":[0,1],"range":[0,190]},"legend":null},"color":{"field":"l","type":"nominal","scale":{"domain":["A","C","D","E","F","G","H","I","K","L","M","N","P","Q","R","S","T","V","W","Y"],"range":["#1A1A1A","#109648","#D62839","#D62839","#1A1A1A","#109648","#21599F","#1A1A1A","#21599F","#1A1A1A","#1A1A1A","#5E2CA5","#1A1A1A","#5E2CA5","#21599F","#109648","#109648","#1A1A1A","#1A1A1A","#109648"]},"legend":null}}},
{"data":{"values":[{"q":8,"m":0.585}]},"mark":{"type":"point","filled":true,"opacity":1,"color":"#109648","size":14161,"strokeWidth":0,"shape":"M.2,-.6C.19,-.86 .11,-1 0,-1C-.12,-1 -.2,-.82 -.2,-.52C-.2,-.26 -.12,-.14 -.03,-.07C.04,-.01 .08,.1 .08,.4C.08,.62 .05,.8 0,.8C-.05,.8 -.08,.66 -.09,.45L-.2,.45C-.19,.82 -.11,1 0,1C.13,1 .2,.8 .2,.5C.2,.22 .12,.12 .03,.04C-.04,-.02 -.08,-.15 -.08,-.42C-.08,-.66 -.05,-.8 0,-.8C.05,-.8 .08,-.68 .09,-.6Z"},"encoding":{"y":{"field":"m","type":"quantitative","scale":{"domain":[0,1],"range":[705.7,562],"nice":false}}}},
{"data":{"values":[{"q":9,"m":0.5}]},"mark":{"type":"point","filled":true,"opacity":1,"color":"#1A1A1A","size":20650,"strokeWidth":0,"shape":"M-.19,1L-.19,-1L.02,-1C.14,-1 .19,-.8 .19,-.45C.19,-.1 .14,.1 .02,.1L-.05,.1L-.05,1ZM-.05,-.8L-.05,-.1L0,-.1C.04,-.1 .05,-.25 .05,-.45C.05,-.65 .04,-.8 0,-.8Z"},"encoding":{"y":{"field":"m","type":"quantitative","scale":{"domain":[0,1],"range":[705.7,562],"nice":false}}}}
]},
{"data":{"name":"logo2"},"transform":[{"window":[{"op":"row_number","as":"rk"}],"groupby":["q"]},{"stack":"p","groupby":["q"],"sort":[{"field":"rk","order":"descending"}],"offset":"normalize","as":["y0","y1"]}],"encoding":{"x":{"field":"q","type":"ordinal","scale":{"domain":[1,2,3,4,5,6,7,8,9,10,11,12,13,14,15],"range":[551.7,956],"paddingInner":0,"paddingOuter":0},"axis":{"orient":"bottom","offset":-256.3,"title":null,"domain":false,"ticks":false,"labelAngle":0,"labelFontSize":12,"labelColor":"#333","labelPadding":9}}},
"layer":[
{"transform":[{"filter":"datum.p<0.08"}],"mark":{"type":"rect","opacity":0.2},"encoding":{"y":{"field":"y0","type":"quantitative","scale":{"domain":[0,1],"range":[901.7,758],"nice":false},"axis":{"orient":"left","offset":-530,"title":"Probability","values":[0,0.25,0.5,0.75,1],"format":".2f","domain":false,"ticks":false,"labelFontSize":12,"labelColor":"#333","labelPadding":2,"titleFontSize":12,"titleFontWeight":"normal","titleColor":"#333","titlePadding":3}},"y2":{"field":"y1"},"color":{"field":"l","type":"nominal","scale":{"domain":["A","C","D","E","F","G","H","I","K","L","M","N","P","Q","R","S","T","V","W","Y"],"range":["#1A1A1A","#109648","#D62839","#D62839","#1A1A1A","#109648","#21599F","#1A1A1A","#21599F","#1A1A1A","#1A1A1A","#5E2CA5","#1A1A1A","#5E2CA5","#21599F","#109648","#109648","#1A1A1A","#1A1A1A","#109648"]},"legend":null}}},
{"transform":[{"filter":"datum.p<0.5"}],"mark":{"type":"text","font":"DejaVu Sans","fontWeight":"bold","baseline":"alphabetic","align":"center"},"encoding":{"y":{"field":"y0","type":"quantitative","scale":{"domain":[0,1],"range":[901.7,758],"nice":false}},"text":{"field":"l"},"size":{"field":"p","type":"quantitative","scale":{"type":"pow","exponent":0.9,"domain":[0,1],"range":[0,190]},"legend":null},"color":{"field":"l","type":"nominal","scale":{"domain":["A","C","D","E","F","G","H","I","K","L","M","N","P","Q","R","S","T","V","W","Y"],"range":["#1A1A1A","#109648","#D62839","#D62839","#1A1A1A","#109648","#21599F","#1A1A1A","#21599F","#1A1A1A","#1A1A1A","#5E2CA5","#1A1A1A","#5E2CA5","#21599F","#109648","#109648","#1A1A1A","#1A1A1A","#109648"]},"legend":null}}},
{"data":{"values":[{"q":8,"m":0.545}]},"mark":{"type":"point","filled":true,"opacity":1,"color":"#109648","size":17100,"strokeWidth":0,"shape":"M.2,-.6C.19,-.86 .11,-1 0,-1C-.12,-1 -.2,-.82 -.2,-.52C-.2,-.26 -.12,-.14 -.03,-.07C.04,-.01 .08,.1 .08,.4C.08,.62 .05,.8 0,.8C-.05,.8 -.08,.66 -.09,.45L-.2,.45C-.19,.82 -.11,1 0,1C.13,1 .2,.8 .2,.5C.2,.22 .12,.12 .03,.04C-.04,-.02 -.08,-.15 -.08,-.42C-.08,-.66 -.05,-.8 0,-.8C.05,-.8 .08,-.68 .09,-.6Z"},"encoding":{"y":{"field":"m","type":"quantitative","scale":{"domain":[0,1],"range":[901.7,758],"nice":false}}}},
{"data":{"values":[{"q":5,"m":0.5}]},"mark":{"type":"point","filled":true,"opacity":1,"color":"#21599F","size":20650,"strokeWidth":0,"shape":"M-.19,1L-.19,-1L.02,-1C.14,-1 .18,-.8 .18,-.5C.18,-.25 .12,-.1 .05,-.06C.12,0 .14,.1 .15,.4C.16,.7 .17,.9 .2,1L.06,1C.04,.9 .03,.6 .02,.4C.01,.15 -.01,.05 -.03,.05L-.05,.05L-.05,1ZM-.05,-.8L-.05,-.14L0,-.14C.03,-.14 .05,-.3 .05,-.47C.05,-.65 .03,-.8 0,-.8Z"},"encoding":{"y":{"field":"m","type":"quantitative","scale":{"domain":[0,1],"range":[901.7,758],"nice":false}}}}
]},
{"data":{"name":"ltree"},"layer":[
{"data":{"values":[{"h":0,"p":9,"a":0,"b":100}]},"mark":{"type":"rect","color":"#8a8a8a"},"encoding":{"x":{"field":"h","type":"quantitative","scale":{"domain":[0,80],"range":[1095,1015],"nice":false},"axis":null},"x2":{"field":"p"},"y":{"field":"a","type":"quantitative","scale":{"domain":[0,100],"range":[416,968],"nice":false},"axis":null},"y2":{"field":"b"}}},
{"mark":{"type":"rule","color":"#333","strokeWidth":1.1},"encoding":{"x":{"field":"h","type":"quantitative","scale":{"domain":[0,80],"range":[1095,1015],"nice":false},"axis":null},"y":{"field":"a","type":"quantitative","scale":{"domain":[0,100],"range":[416,968],"nice":false},"axis":null},"y2":{"field":"b"}}},
{"mark":{"type":"rule","color":"#333","strokeWidth":1.1},"encoding":{"x":{"field":"p","type":"quantitative","scale":{"domain":[0,80],"range":[1095,1015],"nice":false},"axis":null},"x2":{"field":"h"},"y":{"field":"a","type":"quantitative","scale":{"domain":[0,100],"range":[416,968],"nice":false},"axis":null}}},
{"mark":{"type":"rule","color":"#333","strokeWidth":1.1},"encoding":{"x":{"field":"q","type":"quantitative","scale":{"domain":[0,80],"range":[1095,1015],"nice":false},"axis":null},"x2":{"field":"h"},"y":{"field":"b","type":"quantitative","scale":{"domain":[0,100],"range":[416,968],"nice":false},"axis":null}}}
]},
{"data":{"name":"rtree"},"layer":[
{"mark":{"type":"rule","color":"#333","strokeWidth":1.1},"encoding":{"x":{"field":"h","type":"quantitative","scale":{"domain":[0,81],"range":[1732,1813],"nice":false},"axis":null},"y":{"field":"a","type":"quantitative","scale":{"domain":[0,100],"range":[416,968],"nice":false},"axis":null},"y2":{"field":"b"}}},
{"mark":{"type":"rule","color":"#333","strokeWidth":1.1},"encoding":{"x":{"field":"p","type":"quantitative","scale":{"domain":[0,81],"range":[1732,1813],"nice":false},"axis":null},"x2":{"field":"h"},"y":{"field":"a","type":"quantitative","scale":{"domain":[0,100],"range":[416,968],"nice":false},"axis":null}}},
{"mark":{"type":"rule","color":"#333","strokeWidth":1.1},"encoding":{"x":{"field":"q","type":"quantitative","scale":{"domain":[0,81],"range":[1732,1813],"nice":false},"axis":null},"x2":{"field":"h"},"y":{"field":"b","type":"quantitative","scale":{"domain":[0,100],"range":[416,968],"nice":false},"axis":null}}}
]},
{"data":{"name":"fl"},"transform":[{"fold":["a","b","c","d","e","f","g","h","i","j","k","l","m","n","o","p"]}],"mark":{"type":"rect"},"encoding":{"x":{"field":"key","type":"nominal","scale":{"domain":["a","b","c","d","e","f","g","h","i","j","k","l","m","n","o","p"],"range":[1095,1364],"paddingInner":0,"paddingOuter":0},"axis":{"orient":"bottom","offset":-190,"title":null,"domain":false,"ticks":false,"labelAngle":0,"labelFontSize":12,"labelColor":"#333","labelPadding":5,"labelExpr":"['F','F','F','F','F','F','F','F','M','M','F','F','M','M','F','F'][indexof('abcdefghijklmnop',datum.value)]"}},"y":{"field":"r","type":"ordinal","scale":{"range":[416,968],"paddingInner":0,"paddingOuter":0},"axis":null},"color":{"field":"value","type":"ordinal","scale":{"domain":[-4,-3,-2,-1,0,1,2,3,4],"range":["#2166AC","#4393C3","#92C5DE","#D1E5F0","#F7F7F7","#FDDBC7","#F4A582","#D6604D","#B2182B"]},"legend":null}}},
{"data":{"name":"fr"},"transform":[{"fold":["a","b","c","d","e","f","g","h","i","j","k","l","m","n","o","p"]}],"mark":{"type":"rect","stroke":"#999","strokeWidth":0.7},"encoding":{"x":{"field":"key","type":"nominal","scale":{"domain":["a","b","c","d","e","f","g","h","i","j","k","l","m","n","o","p"],"range":[1464,1732],"paddingInner":0,"paddingOuter":0},"axis":{"orient":"bottom","offset":-190,"title":null,"domain":false,"ticks":false,"labelAngle":0,"labelFontSize":12,"labelColor":"#333","labelPadding":5,"labelExpr":"['F','F','F','F','F','F','F','F','M','M','F','F','M','M','F','F'][indexof('abcdefghijklmnop',datum.value)]"}},"y":{"field":"r","type":"ordinal","scale":{"range":[416,968],"paddingInner":0,"paddingOuter":0},"axis":null},"color":{"field":"value","type":"ordinal","scale":{"domain":[-4,-3,-2,-1,0,1,2,3,4],"range":["#2166AC","#4393C3","#92C5DE","#D1E5F0","#F7F7F7","#FDDBC7","#F4A582","#D6604D","#B2182B"]},"legend":null}}},
{"encoding":{"x":{"field":"x","type":"quantitative","scale":{"domain":[0,16],"range":[1095,1364],"nice":false,"zero":false},"axis":null},"y":{"field":"y","type":"quantitative","scale":{"domain":[0,1],"range":[968,416],"nice":false,"zero":false},"axis":null}},
"layer":[
{"data":{"values":[{"x":8,"x2":8,"y":0,"y2":1.033},{"x":0,"x2":16,"y":1.005,"y2":1.005},{"x":0.1,"x2":16.15,"y":-0.038,"y2":-0.038}]},"mark":{"type":"rule","color":"black","strokeWidth":3},"encoding":{"x2":{"field":"x2"},"y2":{"field":"y2"}}},
{"data":{"values":[{"x":4,"x2":4,"y":0,"y2":1.02},{"x":12,"x2":12,"y":0,"y2":1.02}]},"mark":{"type":"rule","color":"black","strokeWidth":1.4,"strokeDash":[14,8]},"encoding":{"x2":{"field":"x2"},"y2":{"field":"y2"}}},
{"data":{"values":[{"x":4.17,"y":1.058,"t":"Lean"},{"x":12.4,"y":1.058,"t":"Obesity"},{"x":2.14,"y":1.02,"t":"Pre"},{"x":6.07,"y":1.02,"t":"Post"},{"x":10.2,"y":1.02,"t":"Pre"},{"x":13.75,"y":1.02,"t":"Post"}]},"mark":{"type":"text","fontSize":16.5,"color":"#111"},"encoding":{"text":{"field":"t"}}},
{"data":{"values":[{"x":8,"y":-0.067,"t":"changed in lean"}]},"mark":{"type":"text","fontSize":24.5,"color":"#111"},"encoding":{"text":{"field":"t"}}}
]},
{"encoding":{"x":{"field":"x","type":"quantitative","scale":{"domain":[0,16],"range":[1464,1732],"nice":false,"zero":false},"axis":null},"y":{"field":"y","type":"quantitative","scale":{"domain":[0,1],"range":[968,416],"nice":false,"zero":false},"axis":null}},
"layer":[
{"data":{"values":[{"x":8.06,"x2":8.06,"y":0,"y2":1.033},{"x":0,"x2":16,"y":1.005,"y2":1.005},{"x":-0.18,"x2":15.95,"y":-0.036,"y2":-0.036}]},"mark":{"type":"rule","color":"black","strokeWidth":3},"encoding":{"x2":{"field":"x2"},"y2":{"field":"y2"}}},
{"data":{"values":[{"x":4,"x2":4,"y":0,"y2":1.02},{"x":12,"x2":12,"y":0,"y2":1.02}]},"mark":{"type":"rule","color":"black","strokeWidth":1.4,"strokeDash":[14,8]},"encoding":{"x2":{"field":"x2"},"y2":{"field":"y2"}}},
{"data":{"values":[{"x":3.9,"y":1.058,"t":"Lean"},{"x":12.1,"y":1.058,"t":"Obesity"},{"x":1.85,"y":1.02,"t":"Pre"},{"x":5.8,"y":1.02,"t":"Post"},{"x":9.9,"y":1.02,"t":"Pre"},{"x":13.5,"y":1.02,"t":"Post"}]},"mark":{"type":"text","fontSize":16.5,"color":"#111"},"encoding":{"text":{"field":"t"}}},
{"data":{"values":[{"x":7.9,"y":-0.067,"t":"changed in obese"}]},"mark":{"type":"text","fontSize":24.5,"color":"#111"},"encoding":{"text":{"field":"t"}}}
]},
{"data":{"values":[{"k":"z","z":2},{"k":"z","z":1.5},{"k":"z","z":1},{"k":"z","z":0.5},{"k":"z","z":0},{"k":"z","z":-0.5},{"k":"z","z":-1},{"k":"z","z":-1.5},{"k":"z","z":-2}]},"mark":{"type":"rect"},"encoding":{"x":{"field":"k","type":"nominal","scale":{"range":[1859,1874],"paddingInner":0,"paddingOuter":0},"axis":null},"y":{"field":"z","type":"ordinal","scale":{"domain":[2,1.5,1,0.5,0,-0.5,-1,-1.5,-2],"range":[418,649],"paddingInner":0,"paddingOuter":0},"axis":{"orient":"right","offset":-46,"values":[2,1,0,-1,-2],"title":null,"domain":false,"ticks":false,"labelPadding":8,"labelFontSize":14,"labelColor":"#222","labelExpr":"replace(datum.label,'-','−')"}},"color":{"field":"z","type":"ordinal","scale":{"domain":[2,1.5,1,0.5,0,-0.5,-1,-1.5,-2],"range":["#B2182B","#D6604D","#F4A582","#FDDBC7","#F7F7F7","#D1E5F0","#92C5DE","#4393C3","#2166AC"]},"legend":null}}},
{"encoding":{"x":{"field":"x","type":"quantitative","scale":{"domain":[0,100],"range":[0,1920],"nice":false},"axis":null},"y":{"field":"y","type":"quantitative","scale":{"domain":[0,100],"range":[0,1158],"nice":false},"axis":null}},
"layer":[
{"data":{"values":[{"x":1.41,"y":1.65,"t":"A"},{"x":26.1,"y":2,"t":"B"},{"x":50.9,"y":2.35,"t":"C"},{"x":1.88,"y":46.4,"t":"D"},{"x":25.05,"y":46.7,"t":"E"},{"x":50.8,"y":37.3,"t":"F"},{"x":30.83,"y":57.4,"t":"E"}]},"mark":{"type":"text","fontSize":27,"color":"#111"},"encoding":{"text":{"field":"t"}}},
{"data":{"values":[{"x":21.46,"y":71.6,"t":"Normalized"},{"x":21.46,"y":73.15,"t":"Enrichment Score"},{"x":97.3,"y":34.4,"t":"Z-Score"}]},"mark":{"type":"text","fontSize":14,"color":"#222"},"encoding":{"text":{"field":"t"}}}
]}
]}
